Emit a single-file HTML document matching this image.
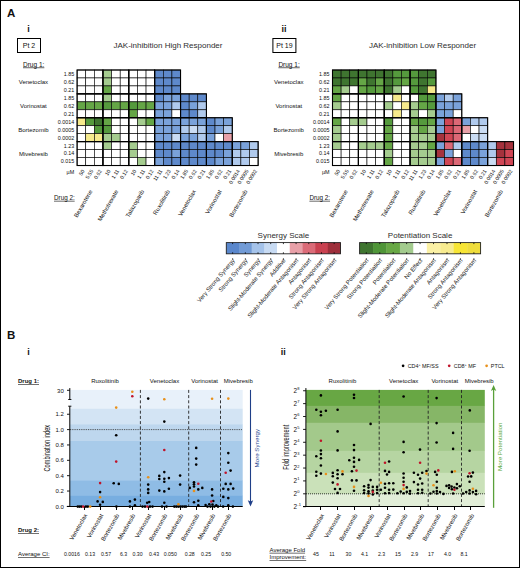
<!DOCTYPE html>
<html><head><meta charset="utf-8"><style>
html,body{margin:0;padding:0;background:#fff;}
body{width:520px;height:568px;overflow:hidden;}
svg{display:block;font-family:"Liberation Sans", sans-serif;}
</style></head><body>
<svg width="520" height="568" viewBox="0 0 520 568">
<rect x="0.5" y="0.5" width="519" height="567" fill="#fff" stroke="#000" stroke-width="1"/>
<text x="28.60" y="32.30" font-size="9" text-anchor="middle" font-weight="bold" fill="#111">i</text>
<rect x="17.50" y="38.50" width="23.00" height="14.00" fill="none" stroke="#000" stroke-width="1"/>
<text x="29.00" y="48.20" font-size="7" text-anchor="middle" fill="#111">Pt 2</text>
<text x="113.50" y="47.90" font-size="8" text-anchor="start" fill="#2e2e2e">JAK-inhibition High Responder</text>
<text x="23.00" y="66.50" font-size="6.5" text-anchor="start" fill="#111" text-decoration="underline">Drug 1:</text>
<text x="33.40" y="84.04" font-size="6" text-anchor="middle" fill="#111">Venetoclax</text>
<text x="33.40" y="107.92" font-size="6" text-anchor="middle" fill="#111">Vorinostat</text>
<text x="33.40" y="131.80" font-size="6" text-anchor="middle" fill="#111">Bortezomib</text>
<text x="33.40" y="155.68" font-size="6" text-anchor="middle" fill="#111">Mivebresib</text>
<text x="74.20" y="75.88" font-size="5.4" text-anchor="end" fill="#111">1.85</text>
<text x="74.20" y="83.84" font-size="5.4" text-anchor="end" fill="#111">0.62</text>
<text x="74.20" y="91.80" font-size="5.4" text-anchor="end" fill="#111">0.21</text>
<text x="74.20" y="99.76" font-size="5.4" text-anchor="end" fill="#111">1.85</text>
<text x="74.20" y="107.72" font-size="5.4" text-anchor="end" fill="#111">0.62</text>
<text x="74.20" y="115.68" font-size="5.4" text-anchor="end" fill="#111">0.21</text>
<text x="74.20" y="123.64" font-size="5.4" text-anchor="end" fill="#111">0.0014</text>
<text x="74.20" y="131.60" font-size="5.4" text-anchor="end" fill="#111">0.0005</text>
<text x="74.20" y="139.56" font-size="5.4" text-anchor="end" fill="#111">0.0002</text>
<text x="74.20" y="147.52" font-size="5.4" text-anchor="end" fill="#111">1.23</text>
<text x="74.20" y="155.48" font-size="5.4" text-anchor="end" fill="#111">0.14</text>
<text x="74.20" y="163.44" font-size="5.4" text-anchor="end" fill="#111">0.015</text>
<rect x="77.10" y="70.00" width="8.62" height="7.96" fill="#ffffff" stroke="#000" stroke-width="0.6"/>
<rect x="77.10" y="77.96" width="8.62" height="7.96" fill="#ffffff" stroke="#000" stroke-width="0.6"/>
<rect x="77.10" y="85.92" width="8.62" height="7.96" fill="#ffffff" stroke="#000" stroke-width="0.6"/>
<rect x="77.10" y="93.88" width="8.62" height="7.96" fill="#ffffff" stroke="#000" stroke-width="0.6"/>
<rect x="77.10" y="101.84" width="8.62" height="7.96" fill="#65a646" stroke="#000" stroke-width="0.6"/>
<rect x="77.10" y="109.80" width="8.62" height="7.96" fill="#ffffff" stroke="#000" stroke-width="0.6"/>
<rect x="77.10" y="117.76" width="8.62" height="7.96" fill="#f6ea8c" stroke="#000" stroke-width="0.6"/>
<rect x="77.10" y="125.72" width="8.62" height="7.96" fill="#ffffff" stroke="#000" stroke-width="0.6"/>
<rect x="77.10" y="133.68" width="8.62" height="7.96" fill="#ffffff" stroke="#000" stroke-width="0.6"/>
<rect x="77.10" y="141.64" width="8.62" height="7.96" fill="#ffffff" stroke="#000" stroke-width="0.6"/>
<rect x="77.10" y="149.60" width="8.62" height="7.96" fill="#ffffff" stroke="#000" stroke-width="0.6"/>
<rect x="77.10" y="157.56" width="8.62" height="7.96" fill="#ffffff" stroke="#000" stroke-width="0.6"/>
<rect x="85.72" y="70.00" width="8.62" height="7.96" fill="#ffffff" stroke="#000" stroke-width="0.6"/>
<rect x="85.72" y="77.96" width="8.62" height="7.96" fill="#ffffff" stroke="#000" stroke-width="0.6"/>
<rect x="85.72" y="85.92" width="8.62" height="7.96" fill="#ffffff" stroke="#000" stroke-width="0.6"/>
<rect x="85.72" y="93.88" width="8.62" height="7.96" fill="#ffffff" stroke="#000" stroke-width="0.6"/>
<rect x="85.72" y="101.84" width="8.62" height="7.96" fill="#65a646" stroke="#000" stroke-width="0.6"/>
<rect x="85.72" y="109.80" width="8.62" height="7.96" fill="#ffffff" stroke="#000" stroke-width="0.6"/>
<rect x="85.72" y="117.76" width="8.62" height="7.96" fill="#559a3d" stroke="#000" stroke-width="0.6"/>
<rect x="85.72" y="125.72" width="8.62" height="7.96" fill="#ffffff" stroke="#000" stroke-width="0.6"/>
<rect x="85.72" y="133.68" width="8.62" height="7.96" fill="#f6ea8c" stroke="#000" stroke-width="0.6"/>
<rect x="85.72" y="141.64" width="8.62" height="7.96" fill="#ffffff" stroke="#000" stroke-width="0.6"/>
<rect x="85.72" y="149.60" width="8.62" height="7.96" fill="#ffffff" stroke="#000" stroke-width="0.6"/>
<rect x="85.72" y="157.56" width="8.62" height="7.96" fill="#ffffff" stroke="#000" stroke-width="0.6"/>
<rect x="94.34" y="70.00" width="8.62" height="7.96" fill="#ffffff" stroke="#000" stroke-width="0.6"/>
<rect x="94.34" y="77.96" width="8.62" height="7.96" fill="#ffffff" stroke="#000" stroke-width="0.6"/>
<rect x="94.34" y="85.92" width="8.62" height="7.96" fill="#ffffff" stroke="#000" stroke-width="0.6"/>
<rect x="94.34" y="93.88" width="8.62" height="7.96" fill="#ffffff" stroke="#000" stroke-width="0.6"/>
<rect x="94.34" y="101.84" width="8.62" height="7.96" fill="#65a646" stroke="#000" stroke-width="0.6"/>
<rect x="94.34" y="109.80" width="8.62" height="7.96" fill="#ffffff" stroke="#000" stroke-width="0.6"/>
<rect x="94.34" y="117.76" width="8.62" height="7.96" fill="#3f7530" stroke="#000" stroke-width="0.6"/>
<rect x="94.34" y="125.72" width="8.62" height="7.96" fill="#559a3d" stroke="#000" stroke-width="0.6"/>
<rect x="94.34" y="133.68" width="8.62" height="7.96" fill="#f6ea8c" stroke="#000" stroke-width="0.6"/>
<rect x="94.34" y="141.64" width="8.62" height="7.96" fill="#ffffff" stroke="#000" stroke-width="0.6"/>
<rect x="94.34" y="149.60" width="8.62" height="7.96" fill="#ffffff" stroke="#000" stroke-width="0.6"/>
<rect x="94.34" y="157.56" width="8.62" height="7.96" fill="#ffffff" stroke="#000" stroke-width="0.6"/>
<rect x="102.96" y="70.00" width="8.62" height="7.96" fill="#a5cc8f" stroke="#000" stroke-width="0.6"/>
<rect x="102.96" y="77.96" width="8.62" height="7.96" fill="#a5cc8f" stroke="#000" stroke-width="0.6"/>
<rect x="102.96" y="85.92" width="8.62" height="7.96" fill="#65a646" stroke="#000" stroke-width="0.6"/>
<rect x="102.96" y="93.88" width="8.62" height="7.96" fill="#a5cc8f" stroke="#000" stroke-width="0.6"/>
<rect x="102.96" y="101.84" width="8.62" height="7.96" fill="#559a3d" stroke="#000" stroke-width="0.6"/>
<rect x="102.96" y="109.80" width="8.62" height="7.96" fill="#ffffff" stroke="#000" stroke-width="0.6"/>
<rect x="102.96" y="117.76" width="8.62" height="7.96" fill="#65a646" stroke="#000" stroke-width="0.6"/>
<rect x="102.96" y="125.72" width="8.62" height="7.96" fill="#559a3d" stroke="#000" stroke-width="0.6"/>
<rect x="102.96" y="133.68" width="8.62" height="7.96" fill="#a5cc8f" stroke="#000" stroke-width="0.6"/>
<rect x="102.96" y="141.64" width="8.62" height="7.96" fill="#a5cc8f" stroke="#000" stroke-width="0.6"/>
<rect x="102.96" y="149.60" width="8.62" height="7.96" fill="#ffffff" stroke="#000" stroke-width="0.6"/>
<rect x="102.96" y="157.56" width="8.62" height="7.96" fill="#ffffff" stroke="#000" stroke-width="0.6"/>
<rect x="111.58" y="70.00" width="8.62" height="7.96" fill="#ffffff" stroke="#000" stroke-width="0.6"/>
<rect x="111.58" y="77.96" width="8.62" height="7.96" fill="#ffffff" stroke="#000" stroke-width="0.6"/>
<rect x="111.58" y="85.92" width="8.62" height="7.96" fill="#ffffff" stroke="#000" stroke-width="0.6"/>
<rect x="111.58" y="93.88" width="8.62" height="7.96" fill="#ffffff" stroke="#000" stroke-width="0.6"/>
<rect x="111.58" y="101.84" width="8.62" height="7.96" fill="#65a646" stroke="#000" stroke-width="0.6"/>
<rect x="111.58" y="109.80" width="8.62" height="7.96" fill="#ffffff" stroke="#000" stroke-width="0.6"/>
<rect x="111.58" y="117.76" width="8.62" height="7.96" fill="#ffffff" stroke="#000" stroke-width="0.6"/>
<rect x="111.58" y="125.72" width="8.62" height="7.96" fill="#ffffff" stroke="#000" stroke-width="0.6"/>
<rect x="111.58" y="133.68" width="8.62" height="7.96" fill="#a5cc8f" stroke="#000" stroke-width="0.6"/>
<rect x="111.58" y="141.64" width="8.62" height="7.96" fill="#ffffff" stroke="#000" stroke-width="0.6"/>
<rect x="111.58" y="149.60" width="8.62" height="7.96" fill="#ffffff" stroke="#000" stroke-width="0.6"/>
<rect x="111.58" y="157.56" width="8.62" height="7.96" fill="#ffffff" stroke="#000" stroke-width="0.6"/>
<rect x="120.20" y="70.00" width="8.62" height="7.96" fill="#ffffff" stroke="#000" stroke-width="0.6"/>
<rect x="120.20" y="77.96" width="8.62" height="7.96" fill="#ffffff" stroke="#000" stroke-width="0.6"/>
<rect x="120.20" y="85.92" width="8.62" height="7.96" fill="#ffffff" stroke="#000" stroke-width="0.6"/>
<rect x="120.20" y="93.88" width="8.62" height="7.96" fill="#ffffff" stroke="#000" stroke-width="0.6"/>
<rect x="120.20" y="101.84" width="8.62" height="7.96" fill="#65a646" stroke="#000" stroke-width="0.6"/>
<rect x="120.20" y="109.80" width="8.62" height="7.96" fill="#ffffff" stroke="#000" stroke-width="0.6"/>
<rect x="120.20" y="117.76" width="8.62" height="7.96" fill="#ffffff" stroke="#000" stroke-width="0.6"/>
<rect x="120.20" y="125.72" width="8.62" height="7.96" fill="#ffffff" stroke="#000" stroke-width="0.6"/>
<rect x="120.20" y="133.68" width="8.62" height="7.96" fill="#ffffff" stroke="#000" stroke-width="0.6"/>
<rect x="120.20" y="141.64" width="8.62" height="7.96" fill="#ffffff" stroke="#000" stroke-width="0.6"/>
<rect x="120.20" y="149.60" width="8.62" height="7.96" fill="#ffffff" stroke="#000" stroke-width="0.6"/>
<rect x="120.20" y="157.56" width="8.62" height="7.96" fill="#ffffff" stroke="#000" stroke-width="0.6"/>
<rect x="128.82" y="70.00" width="8.62" height="7.96" fill="#ffffff" stroke="#000" stroke-width="0.6"/>
<rect x="128.82" y="77.96" width="8.62" height="7.96" fill="#ffffff" stroke="#000" stroke-width="0.6"/>
<rect x="128.82" y="85.92" width="8.62" height="7.96" fill="#ffffff" stroke="#000" stroke-width="0.6"/>
<rect x="128.82" y="93.88" width="8.62" height="7.96" fill="#ffffff" stroke="#000" stroke-width="0.6"/>
<rect x="128.82" y="101.84" width="8.62" height="7.96" fill="#559a3d" stroke="#000" stroke-width="0.6"/>
<rect x="128.82" y="109.80" width="8.62" height="7.96" fill="#65a646" stroke="#000" stroke-width="0.6"/>
<rect x="128.82" y="117.76" width="8.62" height="7.96" fill="#ffffff" stroke="#000" stroke-width="0.6"/>
<rect x="128.82" y="125.72" width="8.62" height="7.96" fill="#ffffff" stroke="#000" stroke-width="0.6"/>
<rect x="128.82" y="133.68" width="8.62" height="7.96" fill="#ffffff" stroke="#000" stroke-width="0.6"/>
<rect x="128.82" y="141.64" width="8.62" height="7.96" fill="#a5cc8f" stroke="#000" stroke-width="0.6"/>
<rect x="128.82" y="149.60" width="8.62" height="7.96" fill="#a5cc8f" stroke="#000" stroke-width="0.6"/>
<rect x="128.82" y="157.56" width="8.62" height="7.96" fill="#ffffff" stroke="#000" stroke-width="0.6"/>
<rect x="137.44" y="70.00" width="8.62" height="7.96" fill="#ffffff" stroke="#000" stroke-width="0.6"/>
<rect x="137.44" y="77.96" width="8.62" height="7.96" fill="#ffffff" stroke="#000" stroke-width="0.6"/>
<rect x="137.44" y="85.92" width="8.62" height="7.96" fill="#ffffff" stroke="#000" stroke-width="0.6"/>
<rect x="137.44" y="93.88" width="8.62" height="7.96" fill="#ffffff" stroke="#000" stroke-width="0.6"/>
<rect x="137.44" y="101.84" width="8.62" height="7.96" fill="#65a646" stroke="#000" stroke-width="0.6"/>
<rect x="137.44" y="109.80" width="8.62" height="7.96" fill="#ffffff" stroke="#000" stroke-width="0.6"/>
<rect x="137.44" y="117.76" width="8.62" height="7.96" fill="#a5cc8f" stroke="#000" stroke-width="0.6"/>
<rect x="137.44" y="125.72" width="8.62" height="7.96" fill="#ffffff" stroke="#000" stroke-width="0.6"/>
<rect x="137.44" y="133.68" width="8.62" height="7.96" fill="#ffffff" stroke="#000" stroke-width="0.6"/>
<rect x="137.44" y="141.64" width="8.62" height="7.96" fill="#ffffff" stroke="#000" stroke-width="0.6"/>
<rect x="137.44" y="149.60" width="8.62" height="7.96" fill="#ffffff" stroke="#000" stroke-width="0.6"/>
<rect x="137.44" y="157.56" width="8.62" height="7.96" fill="#a5cc8f" stroke="#000" stroke-width="0.6"/>
<rect x="146.06" y="70.00" width="8.62" height="7.96" fill="#ffffff" stroke="#000" stroke-width="0.6"/>
<rect x="146.06" y="77.96" width="8.62" height="7.96" fill="#ffffff" stroke="#000" stroke-width="0.6"/>
<rect x="146.06" y="85.92" width="8.62" height="7.96" fill="#ffffff" stroke="#000" stroke-width="0.6"/>
<rect x="146.06" y="93.88" width="8.62" height="7.96" fill="#ffffff" stroke="#000" stroke-width="0.6"/>
<rect x="146.06" y="101.84" width="8.62" height="7.96" fill="#65a646" stroke="#000" stroke-width="0.6"/>
<rect x="146.06" y="109.80" width="8.62" height="7.96" fill="#ffffff" stroke="#000" stroke-width="0.6"/>
<rect x="146.06" y="117.76" width="8.62" height="7.96" fill="#65a646" stroke="#000" stroke-width="0.6"/>
<rect x="146.06" y="125.72" width="8.62" height="7.96" fill="#ffffff" stroke="#000" stroke-width="0.6"/>
<rect x="146.06" y="133.68" width="8.62" height="7.96" fill="#ffffff" stroke="#000" stroke-width="0.6"/>
<rect x="146.06" y="141.64" width="8.62" height="7.96" fill="#ffffff" stroke="#000" stroke-width="0.6"/>
<rect x="146.06" y="149.60" width="8.62" height="7.96" fill="#ffffff" stroke="#000" stroke-width="0.6"/>
<rect x="146.06" y="157.56" width="8.62" height="7.96" fill="#ffffff" stroke="#000" stroke-width="0.6"/>
<rect x="154.68" y="70.00" width="8.62" height="7.96" fill="#5e89cb" stroke="#000" stroke-width="0.6"/>
<rect x="154.68" y="77.96" width="8.62" height="7.96" fill="#5e89cb" stroke="#000" stroke-width="0.6"/>
<rect x="154.68" y="85.92" width="8.62" height="7.96" fill="#5e89cb" stroke="#000" stroke-width="0.6"/>
<rect x="154.68" y="93.88" width="8.62" height="7.96" fill="#5e89cb" stroke="#000" stroke-width="0.6"/>
<rect x="154.68" y="101.84" width="8.62" height="7.96" fill="#7aa2da" stroke="#000" stroke-width="0.6"/>
<rect x="154.68" y="109.80" width="8.62" height="7.96" fill="#7aa2da" stroke="#000" stroke-width="0.6"/>
<rect x="154.68" y="117.76" width="8.62" height="7.96" fill="#7aa2da" stroke="#000" stroke-width="0.6"/>
<rect x="154.68" y="125.72" width="8.62" height="7.96" fill="#7aa2da" stroke="#000" stroke-width="0.6"/>
<rect x="154.68" y="133.68" width="8.62" height="7.96" fill="#7aa2da" stroke="#000" stroke-width="0.6"/>
<rect x="154.68" y="141.64" width="8.62" height="7.96" fill="#5e89cb" stroke="#000" stroke-width="0.6"/>
<rect x="154.68" y="149.60" width="8.62" height="7.96" fill="#5e89cb" stroke="#000" stroke-width="0.6"/>
<rect x="154.68" y="157.56" width="8.62" height="7.96" fill="#7aa2da" stroke="#000" stroke-width="0.6"/>
<rect x="163.30" y="70.00" width="8.62" height="7.96" fill="#5e89cb" stroke="#000" stroke-width="0.6"/>
<rect x="163.30" y="77.96" width="8.62" height="7.96" fill="#5e89cb" stroke="#000" stroke-width="0.6"/>
<rect x="163.30" y="85.92" width="8.62" height="7.96" fill="#5e89cb" stroke="#000" stroke-width="0.6"/>
<rect x="163.30" y="93.88" width="8.62" height="7.96" fill="#7aa2da" stroke="#000" stroke-width="0.6"/>
<rect x="163.30" y="101.84" width="8.62" height="7.96" fill="#7aa2da" stroke="#000" stroke-width="0.6"/>
<rect x="163.30" y="109.80" width="8.62" height="7.96" fill="#7aa2da" stroke="#000" stroke-width="0.6"/>
<rect x="163.30" y="117.76" width="8.62" height="7.96" fill="#7aa2da" stroke="#000" stroke-width="0.6"/>
<rect x="163.30" y="125.72" width="8.62" height="7.96" fill="#7aa2da" stroke="#000" stroke-width="0.6"/>
<rect x="163.30" y="133.68" width="8.62" height="7.96" fill="#7aa2da" stroke="#000" stroke-width="0.6"/>
<rect x="163.30" y="141.64" width="8.62" height="7.96" fill="#5e89cb" stroke="#000" stroke-width="0.6"/>
<rect x="163.30" y="149.60" width="8.62" height="7.96" fill="#5e89cb" stroke="#000" stroke-width="0.6"/>
<rect x="163.30" y="157.56" width="8.62" height="7.96" fill="#5e89cb" stroke="#000" stroke-width="0.6"/>
<rect x="171.92" y="70.00" width="8.62" height="7.96" fill="#5e89cb" stroke="#000" stroke-width="0.6"/>
<rect x="171.92" y="77.96" width="8.62" height="7.96" fill="#5e89cb" stroke="#000" stroke-width="0.6"/>
<rect x="171.92" y="85.92" width="8.62" height="7.96" fill="#5e89cb" stroke="#000" stroke-width="0.6"/>
<rect x="171.92" y="93.88" width="8.62" height="7.96" fill="#7aa2da" stroke="#000" stroke-width="0.6"/>
<rect x="171.92" y="101.84" width="8.62" height="7.96" fill="#b0caed" stroke="#000" stroke-width="0.6"/>
<rect x="171.92" y="109.80" width="8.62" height="7.96" fill="#ffffff" stroke="#000" stroke-width="0.6"/>
<rect x="171.92" y="117.76" width="8.62" height="7.96" fill="#7aa2da" stroke="#000" stroke-width="0.6"/>
<rect x="171.92" y="125.72" width="8.62" height="7.96" fill="#7aa2da" stroke="#000" stroke-width="0.6"/>
<rect x="171.92" y="133.68" width="8.62" height="7.96" fill="#cadcf3" stroke="#000" stroke-width="0.6"/>
<rect x="171.92" y="141.64" width="8.62" height="7.96" fill="#5e89cb" stroke="#000" stroke-width="0.6"/>
<rect x="171.92" y="149.60" width="8.62" height="7.96" fill="#7aa2da" stroke="#000" stroke-width="0.6"/>
<rect x="171.92" y="157.56" width="8.62" height="7.96" fill="#5e89cb" stroke="#000" stroke-width="0.6"/>
<rect x="180.54" y="93.88" width="8.62" height="7.96" fill="#5e89cb" stroke="#000" stroke-width="0.6"/>
<rect x="180.54" y="101.84" width="8.62" height="7.96" fill="#5e89cb" stroke="#000" stroke-width="0.6"/>
<rect x="180.54" y="109.80" width="8.62" height="7.96" fill="#5e89cb" stroke="#000" stroke-width="0.6"/>
<rect x="180.54" y="117.76" width="8.62" height="7.96" fill="#7aa2da" stroke="#000" stroke-width="0.6"/>
<rect x="180.54" y="125.72" width="8.62" height="7.96" fill="#b0caed" stroke="#000" stroke-width="0.6"/>
<rect x="180.54" y="133.68" width="8.62" height="7.96" fill="#7aa2da" stroke="#000" stroke-width="0.6"/>
<rect x="180.54" y="141.64" width="8.62" height="7.96" fill="#5e89cb" stroke="#000" stroke-width="0.6"/>
<rect x="180.54" y="149.60" width="8.62" height="7.96" fill="#5e89cb" stroke="#000" stroke-width="0.6"/>
<rect x="180.54" y="157.56" width="8.62" height="7.96" fill="#5e89cb" stroke="#000" stroke-width="0.6"/>
<rect x="189.16" y="93.88" width="8.62" height="7.96" fill="#5e89cb" stroke="#000" stroke-width="0.6"/>
<rect x="189.16" y="101.84" width="8.62" height="7.96" fill="#7aa2da" stroke="#000" stroke-width="0.6"/>
<rect x="189.16" y="109.80" width="8.62" height="7.96" fill="#5e89cb" stroke="#000" stroke-width="0.6"/>
<rect x="189.16" y="117.76" width="8.62" height="7.96" fill="#7aa2da" stroke="#000" stroke-width="0.6"/>
<rect x="189.16" y="125.72" width="8.62" height="7.96" fill="#cadcf3" stroke="#000" stroke-width="0.6"/>
<rect x="189.16" y="133.68" width="8.62" height="7.96" fill="#7aa2da" stroke="#000" stroke-width="0.6"/>
<rect x="189.16" y="141.64" width="8.62" height="7.96" fill="#5e89cb" stroke="#000" stroke-width="0.6"/>
<rect x="189.16" y="149.60" width="8.62" height="7.96" fill="#5e89cb" stroke="#000" stroke-width="0.6"/>
<rect x="189.16" y="157.56" width="8.62" height="7.96" fill="#5e89cb" stroke="#000" stroke-width="0.6"/>
<rect x="197.78" y="93.88" width="8.62" height="7.96" fill="#5e89cb" stroke="#000" stroke-width="0.6"/>
<rect x="197.78" y="101.84" width="8.62" height="7.96" fill="#b0caed" stroke="#000" stroke-width="0.6"/>
<rect x="197.78" y="109.80" width="8.62" height="7.96" fill="#b0caed" stroke="#000" stroke-width="0.6"/>
<rect x="197.78" y="117.76" width="8.62" height="7.96" fill="#7aa2da" stroke="#000" stroke-width="0.6"/>
<rect x="197.78" y="125.72" width="8.62" height="7.96" fill="#b0caed" stroke="#000" stroke-width="0.6"/>
<rect x="197.78" y="133.68" width="8.62" height="7.96" fill="#b0caed" stroke="#000" stroke-width="0.6"/>
<rect x="197.78" y="141.64" width="8.62" height="7.96" fill="#5e89cb" stroke="#000" stroke-width="0.6"/>
<rect x="197.78" y="149.60" width="8.62" height="7.96" fill="#5e89cb" stroke="#000" stroke-width="0.6"/>
<rect x="197.78" y="157.56" width="8.62" height="7.96" fill="#5e89cb" stroke="#000" stroke-width="0.6"/>
<rect x="206.40" y="117.76" width="8.62" height="7.96" fill="#5e89cb" stroke="#000" stroke-width="0.6"/>
<rect x="206.40" y="125.72" width="8.62" height="7.96" fill="#5e89cb" stroke="#000" stroke-width="0.6"/>
<rect x="206.40" y="133.68" width="8.62" height="7.96" fill="#7aa2da" stroke="#000" stroke-width="0.6"/>
<rect x="206.40" y="141.64" width="8.62" height="7.96" fill="#5e89cb" stroke="#000" stroke-width="0.6"/>
<rect x="206.40" y="149.60" width="8.62" height="7.96" fill="#5e89cb" stroke="#000" stroke-width="0.6"/>
<rect x="206.40" y="157.56" width="8.62" height="7.96" fill="#5e89cb" stroke="#000" stroke-width="0.6"/>
<rect x="215.02" y="117.76" width="8.62" height="7.96" fill="#7aa2da" stroke="#000" stroke-width="0.6"/>
<rect x="215.02" y="125.72" width="8.62" height="7.96" fill="#7aa2da" stroke="#000" stroke-width="0.6"/>
<rect x="215.02" y="133.68" width="8.62" height="7.96" fill="#ffffff" stroke="#000" stroke-width="0.6"/>
<rect x="215.02" y="141.64" width="8.62" height="7.96" fill="#5e89cb" stroke="#000" stroke-width="0.6"/>
<rect x="215.02" y="149.60" width="8.62" height="7.96" fill="#5e89cb" stroke="#000" stroke-width="0.6"/>
<rect x="215.02" y="157.56" width="8.62" height="7.96" fill="#7aa2da" stroke="#000" stroke-width="0.6"/>
<rect x="223.64" y="117.76" width="8.62" height="7.96" fill="#7aa2da" stroke="#000" stroke-width="0.6"/>
<rect x="223.64" y="125.72" width="8.62" height="7.96" fill="#b0caed" stroke="#000" stroke-width="0.6"/>
<rect x="223.64" y="133.68" width="8.62" height="7.96" fill="#e8a0a8" stroke="#000" stroke-width="0.6"/>
<rect x="223.64" y="141.64" width="8.62" height="7.96" fill="#5e89cb" stroke="#000" stroke-width="0.6"/>
<rect x="223.64" y="149.60" width="8.62" height="7.96" fill="#7aa2da" stroke="#000" stroke-width="0.6"/>
<rect x="223.64" y="157.56" width="8.62" height="7.96" fill="#7aa2da" stroke="#000" stroke-width="0.6"/>
<rect x="232.26" y="141.64" width="8.62" height="7.96" fill="#7aa2da" stroke="#000" stroke-width="0.6"/>
<rect x="232.26" y="149.60" width="8.62" height="7.96" fill="#b0caed" stroke="#000" stroke-width="0.6"/>
<rect x="232.26" y="157.56" width="8.62" height="7.96" fill="#b0caed" stroke="#000" stroke-width="0.6"/>
<rect x="240.88" y="141.64" width="8.62" height="7.96" fill="#7aa2da" stroke="#000" stroke-width="0.6"/>
<rect x="240.88" y="149.60" width="8.62" height="7.96" fill="#b0caed" stroke="#000" stroke-width="0.6"/>
<rect x="240.88" y="157.56" width="8.62" height="7.96" fill="#b0caed" stroke="#000" stroke-width="0.6"/>
<rect x="249.50" y="141.64" width="8.62" height="7.96" fill="#b0caed" stroke="#000" stroke-width="0.6"/>
<rect x="249.50" y="149.60" width="8.62" height="7.96" fill="#b0caed" stroke="#000" stroke-width="0.6"/>
<rect x="249.50" y="157.56" width="8.62" height="7.96" fill="#ffffff" stroke="#000" stroke-width="0.6"/>
<rect x="77.10" y="70.00" width="25.86" height="23.88" fill="none" stroke="#000" stroke-width="1.1"/>
<rect x="77.10" y="93.88" width="25.86" height="23.88" fill="none" stroke="#000" stroke-width="1.1"/>
<rect x="77.10" y="117.76" width="25.86" height="23.88" fill="none" stroke="#000" stroke-width="1.1"/>
<rect x="77.10" y="141.64" width="25.86" height="23.88" fill="none" stroke="#000" stroke-width="1.1"/>
<rect x="102.96" y="70.00" width="25.86" height="23.88" fill="none" stroke="#000" stroke-width="1.1"/>
<rect x="102.96" y="93.88" width="25.86" height="23.88" fill="none" stroke="#000" stroke-width="1.1"/>
<rect x="102.96" y="117.76" width="25.86" height="23.88" fill="none" stroke="#000" stroke-width="1.1"/>
<rect x="102.96" y="141.64" width="25.86" height="23.88" fill="none" stroke="#000" stroke-width="1.1"/>
<rect x="128.82" y="70.00" width="25.86" height="23.88" fill="none" stroke="#000" stroke-width="1.1"/>
<rect x="128.82" y="93.88" width="25.86" height="23.88" fill="none" stroke="#000" stroke-width="1.1"/>
<rect x="128.82" y="117.76" width="25.86" height="23.88" fill="none" stroke="#000" stroke-width="1.1"/>
<rect x="128.82" y="141.64" width="25.86" height="23.88" fill="none" stroke="#000" stroke-width="1.1"/>
<rect x="154.68" y="70.00" width="25.86" height="23.88" fill="none" stroke="#000" stroke-width="1.1"/>
<rect x="154.68" y="93.88" width="25.86" height="23.88" fill="none" stroke="#000" stroke-width="1.1"/>
<rect x="154.68" y="117.76" width="25.86" height="23.88" fill="none" stroke="#000" stroke-width="1.1"/>
<rect x="154.68" y="141.64" width="25.86" height="23.88" fill="none" stroke="#000" stroke-width="1.1"/>
<rect x="180.54" y="93.88" width="25.86" height="23.88" fill="none" stroke="#000" stroke-width="1.1"/>
<rect x="180.54" y="117.76" width="25.86" height="23.88" fill="none" stroke="#000" stroke-width="1.1"/>
<rect x="180.54" y="141.64" width="25.86" height="23.88" fill="none" stroke="#000" stroke-width="1.1"/>
<rect x="206.40" y="117.76" width="25.86" height="23.88" fill="none" stroke="#000" stroke-width="1.1"/>
<rect x="206.40" y="141.64" width="25.86" height="23.88" fill="none" stroke="#000" stroke-width="1.1"/>
<rect x="232.26" y="141.64" width="25.86" height="23.88" fill="none" stroke="#000" stroke-width="1.1"/>
<text x="74.20" y="174.20" font-size="5.4" text-anchor="end" fill="#111">µM</text>
<text x="84.91" y="171.00" font-size="5.2" text-anchor="end" fill="#111" transform="rotate(-58 84.91 171.0)">50</text>
<text x="93.53" y="171.00" font-size="5.2" text-anchor="end" fill="#111" transform="rotate(-58 93.53 171.0)">5.55</text>
<text x="102.15" y="171.00" font-size="5.2" text-anchor="end" fill="#111" transform="rotate(-58 102.14999999999999 171.0)">0.62</text>
<text x="110.77" y="171.00" font-size="5.2" text-anchor="end" fill="#111" transform="rotate(-58 110.77 171.0)">10</text>
<text x="119.39" y="171.00" font-size="5.2" text-anchor="end" fill="#111" transform="rotate(-58 119.38999999999999 171.0)">1.11</text>
<text x="128.01" y="171.00" font-size="5.2" text-anchor="end" fill="#111" transform="rotate(-58 128.01 171.0)">0.12</text>
<text x="136.63" y="171.00" font-size="5.2" text-anchor="end" fill="#111" transform="rotate(-58 136.63 171.0)">10</text>
<text x="145.25" y="171.00" font-size="5.2" text-anchor="end" fill="#111" transform="rotate(-58 145.25 171.0)">1.11</text>
<text x="153.87" y="171.00" font-size="5.2" text-anchor="end" fill="#111" transform="rotate(-58 153.87 171.0)">0.12</text>
<text x="162.49" y="171.00" font-size="5.2" text-anchor="end" fill="#111" transform="rotate(-58 162.48999999999998 171.0)">11.11</text>
<text x="171.11" y="171.00" font-size="5.2" text-anchor="end" fill="#111" transform="rotate(-58 171.10999999999999 171.0)">1.23</text>
<text x="179.73" y="171.00" font-size="5.2" text-anchor="end" fill="#111" transform="rotate(-58 179.73 171.0)">0.14</text>
<text x="188.35" y="171.00" font-size="5.2" text-anchor="end" fill="#111" transform="rotate(-58 188.34999999999997 171.0)">1.85</text>
<text x="196.97" y="171.00" font-size="5.2" text-anchor="end" fill="#111" transform="rotate(-58 196.96999999999997 171.0)">0.62</text>
<text x="205.59" y="171.00" font-size="5.2" text-anchor="end" fill="#111" transform="rotate(-58 205.58999999999997 171.0)">0.21</text>
<text x="214.21" y="171.00" font-size="5.2" text-anchor="end" fill="#111" transform="rotate(-58 214.20999999999998 171.0)">1.85</text>
<text x="222.83" y="171.00" font-size="5.2" text-anchor="end" fill="#111" transform="rotate(-58 222.82999999999998 171.0)">0.62</text>
<text x="231.45" y="171.00" font-size="5.2" text-anchor="end" fill="#111" transform="rotate(-58 231.45 171.0)">0.21</text>
<text x="240.07" y="171.00" font-size="5.2" text-anchor="end" fill="#111" transform="rotate(-58 240.07 171.0)">0.0014</text>
<text x="248.69" y="171.00" font-size="5.2" text-anchor="end" fill="#111" transform="rotate(-58 248.68999999999997 171.0)">0.0005</text>
<text x="257.31" y="171.00" font-size="5.2" text-anchor="end" fill="#111" transform="rotate(-58 257.30999999999995 171.0)">0.0002</text>
<text x="54.00" y="199.80" font-size="6.3" text-anchor="start" fill="#111" text-decoration="underline">Drug 2:</text>
<text x="92.63" y="191.40" font-size="6.0" text-anchor="end" fill="#111" transform="rotate(-60 92.63 191.4)">Bexarotene</text>
<text x="118.49" y="191.40" font-size="6.0" text-anchor="end" fill="#111" transform="rotate(-60 118.48999999999998 191.4)">Methotrexate</text>
<text x="144.35" y="191.40" font-size="6.0" text-anchor="end" fill="#111" transform="rotate(-60 144.35 191.4)">Talazoparib</text>
<text x="170.21" y="191.40" font-size="6.0" text-anchor="end" fill="#111" transform="rotate(-60 170.20999999999998 191.4)">Ruxolitinib</text>
<text x="196.07" y="191.40" font-size="6.0" text-anchor="end" fill="#111" transform="rotate(-60 196.06999999999996 191.4)">Venetoclax</text>
<text x="221.93" y="191.40" font-size="6.0" text-anchor="end" fill="#111" transform="rotate(-60 221.92999999999998 191.4)">Vorinostat</text>
<text x="247.79" y="191.40" font-size="6.0" text-anchor="end" fill="#111" transform="rotate(-60 247.78999999999996 191.4)">Bortezomib</text>
<text x="284.00" y="32.30" font-size="9" text-anchor="middle" font-weight="bold" fill="#111">ii</text>
<rect x="272.90" y="38.50" width="23.00" height="14.00" fill="none" stroke="#000" stroke-width="1"/>
<text x="284.40" y="48.20" font-size="7" text-anchor="middle" fill="#111">Pt 19</text>
<text x="368.90" y="47.90" font-size="8" text-anchor="start" fill="#2e2e2e">JAK-inhibition Low Responder</text>
<text x="278.40" y="66.50" font-size="6.5" text-anchor="start" fill="#111" text-decoration="underline">Drug 1:</text>
<text x="288.80" y="84.04" font-size="6" text-anchor="middle" fill="#111">Venetoclax</text>
<text x="288.80" y="107.92" font-size="6" text-anchor="middle" fill="#111">Vorinostat</text>
<text x="288.80" y="131.80" font-size="6" text-anchor="middle" fill="#111">Bortezomib</text>
<text x="288.80" y="155.68" font-size="6" text-anchor="middle" fill="#111">Mivebresib</text>
<text x="329.60" y="75.88" font-size="5.4" text-anchor="end" fill="#111">1.85</text>
<text x="329.60" y="83.84" font-size="5.4" text-anchor="end" fill="#111">0.62</text>
<text x="329.60" y="91.80" font-size="5.4" text-anchor="end" fill="#111">0.21</text>
<text x="329.60" y="99.76" font-size="5.4" text-anchor="end" fill="#111">1.85</text>
<text x="329.60" y="107.72" font-size="5.4" text-anchor="end" fill="#111">0.62</text>
<text x="329.60" y="115.68" font-size="5.4" text-anchor="end" fill="#111">0.21</text>
<text x="329.60" y="123.64" font-size="5.4" text-anchor="end" fill="#111">0.0014</text>
<text x="329.60" y="131.60" font-size="5.4" text-anchor="end" fill="#111">0.0005</text>
<text x="329.60" y="139.56" font-size="5.4" text-anchor="end" fill="#111">0.0002</text>
<text x="329.60" y="147.52" font-size="5.4" text-anchor="end" fill="#111">1.23</text>
<text x="329.60" y="155.48" font-size="5.4" text-anchor="end" fill="#111">0.14</text>
<text x="329.60" y="163.44" font-size="5.4" text-anchor="end" fill="#111">0.015</text>
<rect x="332.50" y="70.00" width="8.62" height="7.96" fill="#3f7530" stroke="#000" stroke-width="0.6"/>
<rect x="332.50" y="77.96" width="8.62" height="7.96" fill="#3f7530" stroke="#000" stroke-width="0.6"/>
<rect x="332.50" y="85.92" width="8.62" height="7.96" fill="#65a646" stroke="#000" stroke-width="0.6"/>
<rect x="332.50" y="93.88" width="8.62" height="7.96" fill="#65a646" stroke="#000" stroke-width="0.6"/>
<rect x="332.50" y="101.84" width="8.62" height="7.96" fill="#a5cc8f" stroke="#000" stroke-width="0.6"/>
<rect x="332.50" y="109.80" width="8.62" height="7.96" fill="#ffffff" stroke="#000" stroke-width="0.6"/>
<rect x="332.50" y="117.76" width="8.62" height="7.96" fill="#65a646" stroke="#000" stroke-width="0.6"/>
<rect x="332.50" y="125.72" width="8.62" height="7.96" fill="#a5cc8f" stroke="#000" stroke-width="0.6"/>
<rect x="332.50" y="133.68" width="8.62" height="7.96" fill="#a5cc8f" stroke="#000" stroke-width="0.6"/>
<rect x="332.50" y="141.64" width="8.62" height="7.96" fill="#a5cc8f" stroke="#000" stroke-width="0.6"/>
<rect x="332.50" y="149.60" width="8.62" height="7.96" fill="#ffffff" stroke="#000" stroke-width="0.6"/>
<rect x="332.50" y="157.56" width="8.62" height="7.96" fill="#ffffff" stroke="#000" stroke-width="0.6"/>
<rect x="341.12" y="70.00" width="8.62" height="7.96" fill="#3f7530" stroke="#000" stroke-width="0.6"/>
<rect x="341.12" y="77.96" width="8.62" height="7.96" fill="#3f7530" stroke="#000" stroke-width="0.6"/>
<rect x="341.12" y="85.92" width="8.62" height="7.96" fill="#a5cc8f" stroke="#000" stroke-width="0.6"/>
<rect x="341.12" y="93.88" width="8.62" height="7.96" fill="#ffffff" stroke="#000" stroke-width="0.6"/>
<rect x="341.12" y="101.84" width="8.62" height="7.96" fill="#ffffff" stroke="#000" stroke-width="0.6"/>
<rect x="341.12" y="109.80" width="8.62" height="7.96" fill="#ffffff" stroke="#000" stroke-width="0.6"/>
<rect x="341.12" y="117.76" width="8.62" height="7.96" fill="#ffffff" stroke="#000" stroke-width="0.6"/>
<rect x="341.12" y="125.72" width="8.62" height="7.96" fill="#ffffff" stroke="#000" stroke-width="0.6"/>
<rect x="341.12" y="133.68" width="8.62" height="7.96" fill="#ffffff" stroke="#000" stroke-width="0.6"/>
<rect x="341.12" y="141.64" width="8.62" height="7.96" fill="#ffffff" stroke="#000" stroke-width="0.6"/>
<rect x="341.12" y="149.60" width="8.62" height="7.96" fill="#ffffff" stroke="#000" stroke-width="0.6"/>
<rect x="341.12" y="157.56" width="8.62" height="7.96" fill="#ffffff" stroke="#000" stroke-width="0.6"/>
<rect x="349.74" y="70.00" width="8.62" height="7.96" fill="#3f7530" stroke="#000" stroke-width="0.6"/>
<rect x="349.74" y="77.96" width="8.62" height="7.96" fill="#3f7530" stroke="#000" stroke-width="0.6"/>
<rect x="349.74" y="85.92" width="8.62" height="7.96" fill="#ffffff" stroke="#000" stroke-width="0.6"/>
<rect x="349.74" y="93.88" width="8.62" height="7.96" fill="#ffffff" stroke="#000" stroke-width="0.6"/>
<rect x="349.74" y="101.84" width="8.62" height="7.96" fill="#ffffff" stroke="#000" stroke-width="0.6"/>
<rect x="349.74" y="109.80" width="8.62" height="7.96" fill="#ffffff" stroke="#000" stroke-width="0.6"/>
<rect x="349.74" y="117.76" width="8.62" height="7.96" fill="#a5cc8f" stroke="#000" stroke-width="0.6"/>
<rect x="349.74" y="125.72" width="8.62" height="7.96" fill="#ffffff" stroke="#000" stroke-width="0.6"/>
<rect x="349.74" y="133.68" width="8.62" height="7.96" fill="#ffffff" stroke="#000" stroke-width="0.6"/>
<rect x="349.74" y="141.64" width="8.62" height="7.96" fill="#ffffff" stroke="#000" stroke-width="0.6"/>
<rect x="349.74" y="149.60" width="8.62" height="7.96" fill="#ffffff" stroke="#000" stroke-width="0.6"/>
<rect x="349.74" y="157.56" width="8.62" height="7.96" fill="#ffffff" stroke="#000" stroke-width="0.6"/>
<rect x="358.36" y="70.00" width="8.62" height="7.96" fill="#3f7530" stroke="#000" stroke-width="0.6"/>
<rect x="358.36" y="77.96" width="8.62" height="7.96" fill="#65a646" stroke="#000" stroke-width="0.6"/>
<rect x="358.36" y="85.92" width="8.62" height="7.96" fill="#65a646" stroke="#000" stroke-width="0.6"/>
<rect x="358.36" y="93.88" width="8.62" height="7.96" fill="#ffffff" stroke="#000" stroke-width="0.6"/>
<rect x="358.36" y="101.84" width="8.62" height="7.96" fill="#ffffff" stroke="#000" stroke-width="0.6"/>
<rect x="358.36" y="109.80" width="8.62" height="7.96" fill="#ffffff" stroke="#000" stroke-width="0.6"/>
<rect x="358.36" y="117.76" width="8.62" height="7.96" fill="#a5cc8f" stroke="#000" stroke-width="0.6"/>
<rect x="358.36" y="125.72" width="8.62" height="7.96" fill="#ffffff" stroke="#000" stroke-width="0.6"/>
<rect x="358.36" y="133.68" width="8.62" height="7.96" fill="#ffffff" stroke="#000" stroke-width="0.6"/>
<rect x="358.36" y="141.64" width="8.62" height="7.96" fill="#a5cc8f" stroke="#000" stroke-width="0.6"/>
<rect x="358.36" y="149.60" width="8.62" height="7.96" fill="#ffffff" stroke="#000" stroke-width="0.6"/>
<rect x="358.36" y="157.56" width="8.62" height="7.96" fill="#ffffff" stroke="#000" stroke-width="0.6"/>
<rect x="366.98" y="70.00" width="8.62" height="7.96" fill="#3f7530" stroke="#000" stroke-width="0.6"/>
<rect x="366.98" y="77.96" width="8.62" height="7.96" fill="#3f7530" stroke="#000" stroke-width="0.6"/>
<rect x="366.98" y="85.92" width="8.62" height="7.96" fill="#559a3d" stroke="#000" stroke-width="0.6"/>
<rect x="366.98" y="93.88" width="8.62" height="7.96" fill="#ffffff" stroke="#000" stroke-width="0.6"/>
<rect x="366.98" y="101.84" width="8.62" height="7.96" fill="#ffffff" stroke="#000" stroke-width="0.6"/>
<rect x="366.98" y="109.80" width="8.62" height="7.96" fill="#ffffff" stroke="#000" stroke-width="0.6"/>
<rect x="366.98" y="117.76" width="8.62" height="7.96" fill="#ffffff" stroke="#000" stroke-width="0.6"/>
<rect x="366.98" y="125.72" width="8.62" height="7.96" fill="#ffffff" stroke="#000" stroke-width="0.6"/>
<rect x="366.98" y="133.68" width="8.62" height="7.96" fill="#ffffff" stroke="#000" stroke-width="0.6"/>
<rect x="366.98" y="141.64" width="8.62" height="7.96" fill="#a5cc8f" stroke="#000" stroke-width="0.6"/>
<rect x="366.98" y="149.60" width="8.62" height="7.96" fill="#ffffff" stroke="#000" stroke-width="0.6"/>
<rect x="366.98" y="157.56" width="8.62" height="7.96" fill="#ffffff" stroke="#000" stroke-width="0.6"/>
<rect x="375.60" y="70.00" width="8.62" height="7.96" fill="#3f7530" stroke="#000" stroke-width="0.6"/>
<rect x="375.60" y="77.96" width="8.62" height="7.96" fill="#65a646" stroke="#000" stroke-width="0.6"/>
<rect x="375.60" y="85.92" width="8.62" height="7.96" fill="#65a646" stroke="#000" stroke-width="0.6"/>
<rect x="375.60" y="93.88" width="8.62" height="7.96" fill="#ffffff" stroke="#000" stroke-width="0.6"/>
<rect x="375.60" y="101.84" width="8.62" height="7.96" fill="#ffffff" stroke="#000" stroke-width="0.6"/>
<rect x="375.60" y="109.80" width="8.62" height="7.96" fill="#ffffff" stroke="#000" stroke-width="0.6"/>
<rect x="375.60" y="117.76" width="8.62" height="7.96" fill="#ffffff" stroke="#000" stroke-width="0.6"/>
<rect x="375.60" y="125.72" width="8.62" height="7.96" fill="#ffffff" stroke="#000" stroke-width="0.6"/>
<rect x="375.60" y="133.68" width="8.62" height="7.96" fill="#ffffff" stroke="#000" stroke-width="0.6"/>
<rect x="375.60" y="141.64" width="8.62" height="7.96" fill="#a5cc8f" stroke="#000" stroke-width="0.6"/>
<rect x="375.60" y="149.60" width="8.62" height="7.96" fill="#ffffff" stroke="#000" stroke-width="0.6"/>
<rect x="375.60" y="157.56" width="8.62" height="7.96" fill="#ffffff" stroke="#000" stroke-width="0.6"/>
<rect x="384.22" y="70.00" width="8.62" height="7.96" fill="#3f7530" stroke="#000" stroke-width="0.6"/>
<rect x="384.22" y="77.96" width="8.62" height="7.96" fill="#3f7530" stroke="#000" stroke-width="0.6"/>
<rect x="384.22" y="85.92" width="8.62" height="7.96" fill="#3f7530" stroke="#000" stroke-width="0.6"/>
<rect x="384.22" y="93.88" width="8.62" height="7.96" fill="#ffffff" stroke="#000" stroke-width="0.6"/>
<rect x="384.22" y="101.84" width="8.62" height="7.96" fill="#a5cc8f" stroke="#000" stroke-width="0.6"/>
<rect x="384.22" y="109.80" width="8.62" height="7.96" fill="#ffffff" stroke="#000" stroke-width="0.6"/>
<rect x="384.22" y="117.76" width="8.62" height="7.96" fill="#559a3d" stroke="#000" stroke-width="0.6"/>
<rect x="384.22" y="125.72" width="8.62" height="7.96" fill="#65a646" stroke="#000" stroke-width="0.6"/>
<rect x="384.22" y="133.68" width="8.62" height="7.96" fill="#65a646" stroke="#000" stroke-width="0.6"/>
<rect x="384.22" y="141.64" width="8.62" height="7.96" fill="#65a646" stroke="#000" stroke-width="0.6"/>
<rect x="384.22" y="149.60" width="8.62" height="7.96" fill="#a5cc8f" stroke="#000" stroke-width="0.6"/>
<rect x="384.22" y="157.56" width="8.62" height="7.96" fill="#65a646" stroke="#000" stroke-width="0.6"/>
<rect x="392.84" y="70.00" width="8.62" height="7.96" fill="#559a3d" stroke="#000" stroke-width="0.6"/>
<rect x="392.84" y="77.96" width="8.62" height="7.96" fill="#559a3d" stroke="#000" stroke-width="0.6"/>
<rect x="392.84" y="85.92" width="8.62" height="7.96" fill="#a5cc8f" stroke="#000" stroke-width="0.6"/>
<rect x="392.84" y="93.88" width="8.62" height="7.96" fill="#f6ea8c" stroke="#000" stroke-width="0.6"/>
<rect x="392.84" y="101.84" width="8.62" height="7.96" fill="#ffffff" stroke="#000" stroke-width="0.6"/>
<rect x="392.84" y="109.80" width="8.62" height="7.96" fill="#f6ea8c" stroke="#000" stroke-width="0.6"/>
<rect x="392.84" y="117.76" width="8.62" height="7.96" fill="#ffffff" stroke="#000" stroke-width="0.6"/>
<rect x="392.84" y="125.72" width="8.62" height="7.96" fill="#ffffff" stroke="#000" stroke-width="0.6"/>
<rect x="392.84" y="133.68" width="8.62" height="7.96" fill="#ffffff" stroke="#000" stroke-width="0.6"/>
<rect x="392.84" y="141.64" width="8.62" height="7.96" fill="#ffffff" stroke="#000" stroke-width="0.6"/>
<rect x="392.84" y="149.60" width="8.62" height="7.96" fill="#ffffff" stroke="#000" stroke-width="0.6"/>
<rect x="392.84" y="157.56" width="8.62" height="7.96" fill="#ffffff" stroke="#000" stroke-width="0.6"/>
<rect x="401.46" y="70.00" width="8.62" height="7.96" fill="#559a3d" stroke="#000" stroke-width="0.6"/>
<rect x="401.46" y="77.96" width="8.62" height="7.96" fill="#65a646" stroke="#000" stroke-width="0.6"/>
<rect x="401.46" y="85.92" width="8.62" height="7.96" fill="#ffffff" stroke="#000" stroke-width="0.6"/>
<rect x="401.46" y="93.88" width="8.62" height="7.96" fill="#ffffff" stroke="#000" stroke-width="0.6"/>
<rect x="401.46" y="101.84" width="8.62" height="7.96" fill="#f6ea8c" stroke="#000" stroke-width="0.6"/>
<rect x="401.46" y="109.80" width="8.62" height="7.96" fill="#ffffff" stroke="#000" stroke-width="0.6"/>
<rect x="401.46" y="117.76" width="8.62" height="7.96" fill="#ffffff" stroke="#000" stroke-width="0.6"/>
<rect x="401.46" y="125.72" width="8.62" height="7.96" fill="#ffffff" stroke="#000" stroke-width="0.6"/>
<rect x="401.46" y="133.68" width="8.62" height="7.96" fill="#ffffff" stroke="#000" stroke-width="0.6"/>
<rect x="401.46" y="141.64" width="8.62" height="7.96" fill="#ffffff" stroke="#000" stroke-width="0.6"/>
<rect x="401.46" y="149.60" width="8.62" height="7.96" fill="#ffffff" stroke="#000" stroke-width="0.6"/>
<rect x="401.46" y="157.56" width="8.62" height="7.96" fill="#ffffff" stroke="#000" stroke-width="0.6"/>
<rect x="410.08" y="70.00" width="8.62" height="7.96" fill="#559a3d" stroke="#000" stroke-width="0.6"/>
<rect x="410.08" y="77.96" width="8.62" height="7.96" fill="#559a3d" stroke="#000" stroke-width="0.6"/>
<rect x="410.08" y="85.92" width="8.62" height="7.96" fill="#559a3d" stroke="#000" stroke-width="0.6"/>
<rect x="410.08" y="93.88" width="8.62" height="7.96" fill="#ffffff" stroke="#000" stroke-width="0.6"/>
<rect x="410.08" y="101.84" width="8.62" height="7.96" fill="#a5cc8f" stroke="#000" stroke-width="0.6"/>
<rect x="410.08" y="109.80" width="8.62" height="7.96" fill="#a5cc8f" stroke="#000" stroke-width="0.6"/>
<rect x="410.08" y="117.76" width="8.62" height="7.96" fill="#65a646" stroke="#000" stroke-width="0.6"/>
<rect x="410.08" y="125.72" width="8.62" height="7.96" fill="#a5cc8f" stroke="#000" stroke-width="0.6"/>
<rect x="410.08" y="133.68" width="8.62" height="7.96" fill="#a5cc8f" stroke="#000" stroke-width="0.6"/>
<rect x="410.08" y="141.64" width="8.62" height="7.96" fill="#a5cc8f" stroke="#000" stroke-width="0.6"/>
<rect x="410.08" y="149.60" width="8.62" height="7.96" fill="#a5cc8f" stroke="#000" stroke-width="0.6"/>
<rect x="410.08" y="157.56" width="8.62" height="7.96" fill="#a5cc8f" stroke="#000" stroke-width="0.6"/>
<rect x="418.70" y="70.00" width="8.62" height="7.96" fill="#3f7530" stroke="#000" stroke-width="0.6"/>
<rect x="418.70" y="77.96" width="8.62" height="7.96" fill="#3f7530" stroke="#000" stroke-width="0.6"/>
<rect x="418.70" y="85.92" width="8.62" height="7.96" fill="#3f7530" stroke="#000" stroke-width="0.6"/>
<rect x="418.70" y="93.88" width="8.62" height="7.96" fill="#559a3d" stroke="#000" stroke-width="0.6"/>
<rect x="418.70" y="101.84" width="8.62" height="7.96" fill="#65a646" stroke="#000" stroke-width="0.6"/>
<rect x="418.70" y="109.80" width="8.62" height="7.96" fill="#ffffff" stroke="#000" stroke-width="0.6"/>
<rect x="418.70" y="117.76" width="8.62" height="7.96" fill="#559a3d" stroke="#000" stroke-width="0.6"/>
<rect x="418.70" y="125.72" width="8.62" height="7.96" fill="#65a646" stroke="#000" stroke-width="0.6"/>
<rect x="418.70" y="133.68" width="8.62" height="7.96" fill="#a5cc8f" stroke="#000" stroke-width="0.6"/>
<rect x="418.70" y="141.64" width="8.62" height="7.96" fill="#a5cc8f" stroke="#000" stroke-width="0.6"/>
<rect x="418.70" y="149.60" width="8.62" height="7.96" fill="#a5cc8f" stroke="#000" stroke-width="0.6"/>
<rect x="418.70" y="157.56" width="8.62" height="7.96" fill="#a5cc8f" stroke="#000" stroke-width="0.6"/>
<rect x="427.32" y="70.00" width="8.62" height="7.96" fill="#3f7530" stroke="#000" stroke-width="0.6"/>
<rect x="427.32" y="77.96" width="8.62" height="7.96" fill="#559a3d" stroke="#000" stroke-width="0.6"/>
<rect x="427.32" y="85.92" width="8.62" height="7.96" fill="#f6ea8c" stroke="#000" stroke-width="0.6"/>
<rect x="427.32" y="93.88" width="8.62" height="7.96" fill="#559a3d" stroke="#000" stroke-width="0.6"/>
<rect x="427.32" y="101.84" width="8.62" height="7.96" fill="#559a3d" stroke="#000" stroke-width="0.6"/>
<rect x="427.32" y="109.80" width="8.62" height="7.96" fill="#a5cc8f" stroke="#000" stroke-width="0.6"/>
<rect x="427.32" y="117.76" width="8.62" height="7.96" fill="#65a646" stroke="#000" stroke-width="0.6"/>
<rect x="427.32" y="125.72" width="8.62" height="7.96" fill="#a5cc8f" stroke="#000" stroke-width="0.6"/>
<rect x="427.32" y="133.68" width="8.62" height="7.96" fill="#a5cc8f" stroke="#000" stroke-width="0.6"/>
<rect x="427.32" y="141.64" width="8.62" height="7.96" fill="#65a646" stroke="#000" stroke-width="0.6"/>
<rect x="427.32" y="149.60" width="8.62" height="7.96" fill="#a5cc8f" stroke="#000" stroke-width="0.6"/>
<rect x="427.32" y="157.56" width="8.62" height="7.96" fill="#a5cc8f" stroke="#000" stroke-width="0.6"/>
<rect x="435.94" y="93.88" width="8.62" height="7.96" fill="#7aa2da" stroke="#000" stroke-width="0.6"/>
<rect x="435.94" y="101.84" width="8.62" height="7.96" fill="#7aa2da" stroke="#000" stroke-width="0.6"/>
<rect x="435.94" y="109.80" width="8.62" height="7.96" fill="#7aa2da" stroke="#000" stroke-width="0.6"/>
<rect x="435.94" y="117.76" width="8.62" height="7.96" fill="#7aa2da" stroke="#000" stroke-width="0.6"/>
<rect x="435.94" y="125.72" width="8.62" height="7.96" fill="#7aa2da" stroke="#000" stroke-width="0.6"/>
<rect x="435.94" y="133.68" width="8.62" height="7.96" fill="#a5323d" stroke="#000" stroke-width="0.6"/>
<rect x="435.94" y="141.64" width="8.62" height="7.96" fill="#7aa2da" stroke="#000" stroke-width="0.6"/>
<rect x="435.94" y="149.60" width="8.62" height="7.96" fill="#a5323d" stroke="#000" stroke-width="0.6"/>
<rect x="435.94" y="157.56" width="8.62" height="7.96" fill="#7aa2da" stroke="#000" stroke-width="0.6"/>
<rect x="444.56" y="93.88" width="8.62" height="7.96" fill="#b0caed" stroke="#000" stroke-width="0.6"/>
<rect x="444.56" y="101.84" width="8.62" height="7.96" fill="#7aa2da" stroke="#000" stroke-width="0.6"/>
<rect x="444.56" y="109.80" width="8.62" height="7.96" fill="#7aa2da" stroke="#000" stroke-width="0.6"/>
<rect x="444.56" y="117.76" width="8.62" height="7.96" fill="#d04655" stroke="#000" stroke-width="0.6"/>
<rect x="444.56" y="125.72" width="8.62" height="7.96" fill="#d04655" stroke="#000" stroke-width="0.6"/>
<rect x="444.56" y="133.68" width="8.62" height="7.96" fill="#d04655" stroke="#000" stroke-width="0.6"/>
<rect x="444.56" y="141.64" width="8.62" height="7.96" fill="#dc6876" stroke="#000" stroke-width="0.6"/>
<rect x="444.56" y="149.60" width="8.62" height="7.96" fill="#7aa2da" stroke="#000" stroke-width="0.6"/>
<rect x="444.56" y="157.56" width="8.62" height="7.96" fill="#d04655" stroke="#000" stroke-width="0.6"/>
<rect x="453.18" y="93.88" width="8.62" height="7.96" fill="#7aa2da" stroke="#000" stroke-width="0.6"/>
<rect x="453.18" y="101.84" width="8.62" height="7.96" fill="#7aa2da" stroke="#000" stroke-width="0.6"/>
<rect x="453.18" y="109.80" width="8.62" height="7.96" fill="#ffffff" stroke="#000" stroke-width="0.6"/>
<rect x="453.18" y="117.76" width="8.62" height="7.96" fill="#dc6876" stroke="#000" stroke-width="0.6"/>
<rect x="453.18" y="125.72" width="8.62" height="7.96" fill="#dc6876" stroke="#000" stroke-width="0.6"/>
<rect x="453.18" y="133.68" width="8.62" height="7.96" fill="#dc6876" stroke="#000" stroke-width="0.6"/>
<rect x="453.18" y="141.64" width="8.62" height="7.96" fill="#b0caed" stroke="#000" stroke-width="0.6"/>
<rect x="453.18" y="149.60" width="8.62" height="7.96" fill="#ffffff" stroke="#000" stroke-width="0.6"/>
<rect x="453.18" y="157.56" width="8.62" height="7.96" fill="#dc6876" stroke="#000" stroke-width="0.6"/>
<rect x="461.80" y="117.76" width="8.62" height="7.96" fill="#7aa2da" stroke="#000" stroke-width="0.6"/>
<rect x="461.80" y="125.72" width="8.62" height="7.96" fill="#e8a0a8" stroke="#000" stroke-width="0.6"/>
<rect x="461.80" y="133.68" width="8.62" height="7.96" fill="#ffffff" stroke="#000" stroke-width="0.6"/>
<rect x="461.80" y="141.64" width="8.62" height="7.96" fill="#5e89cb" stroke="#000" stroke-width="0.6"/>
<rect x="461.80" y="149.60" width="8.62" height="7.96" fill="#5e89cb" stroke="#000" stroke-width="0.6"/>
<rect x="461.80" y="157.56" width="8.62" height="7.96" fill="#5e89cb" stroke="#000" stroke-width="0.6"/>
<rect x="470.42" y="117.76" width="8.62" height="7.96" fill="#b0caed" stroke="#000" stroke-width="0.6"/>
<rect x="470.42" y="125.72" width="8.62" height="7.96" fill="#ffffff" stroke="#000" stroke-width="0.6"/>
<rect x="470.42" y="133.68" width="8.62" height="7.96" fill="#cadcf3" stroke="#000" stroke-width="0.6"/>
<rect x="470.42" y="141.64" width="8.62" height="7.96" fill="#5e89cb" stroke="#000" stroke-width="0.6"/>
<rect x="470.42" y="149.60" width="8.62" height="7.96" fill="#5e89cb" stroke="#000" stroke-width="0.6"/>
<rect x="470.42" y="157.56" width="8.62" height="7.96" fill="#5e89cb" stroke="#000" stroke-width="0.6"/>
<rect x="479.04" y="117.76" width="8.62" height="7.96" fill="#b0caed" stroke="#000" stroke-width="0.6"/>
<rect x="479.04" y="125.72" width="8.62" height="7.96" fill="#cadcf3" stroke="#000" stroke-width="0.6"/>
<rect x="479.04" y="133.68" width="8.62" height="7.96" fill="#cadcf3" stroke="#000" stroke-width="0.6"/>
<rect x="479.04" y="141.64" width="8.62" height="7.96" fill="#7aa2da" stroke="#000" stroke-width="0.6"/>
<rect x="479.04" y="149.60" width="8.62" height="7.96" fill="#7aa2da" stroke="#000" stroke-width="0.6"/>
<rect x="479.04" y="157.56" width="8.62" height="7.96" fill="#7aa2da" stroke="#000" stroke-width="0.6"/>
<rect x="487.66" y="141.64" width="8.62" height="7.96" fill="#b0caed" stroke="#000" stroke-width="0.6"/>
<rect x="487.66" y="149.60" width="8.62" height="7.96" fill="#b0caed" stroke="#000" stroke-width="0.6"/>
<rect x="487.66" y="157.56" width="8.62" height="7.96" fill="#cadcf3" stroke="#000" stroke-width="0.6"/>
<rect x="496.28" y="141.64" width="8.62" height="7.96" fill="#a5323d" stroke="#000" stroke-width="0.6"/>
<rect x="496.28" y="149.60" width="8.62" height="7.96" fill="#a5323d" stroke="#000" stroke-width="0.6"/>
<rect x="496.28" y="157.56" width="8.62" height="7.96" fill="#d04655" stroke="#000" stroke-width="0.6"/>
<rect x="504.90" y="141.64" width="8.62" height="7.96" fill="#a5323d" stroke="#000" stroke-width="0.6"/>
<rect x="504.90" y="149.60" width="8.62" height="7.96" fill="#d04655" stroke="#000" stroke-width="0.6"/>
<rect x="504.90" y="157.56" width="8.62" height="7.96" fill="#d04655" stroke="#000" stroke-width="0.6"/>
<rect x="332.50" y="70.00" width="25.86" height="23.88" fill="none" stroke="#000" stroke-width="1.1"/>
<rect x="332.50" y="93.88" width="25.86" height="23.88" fill="none" stroke="#000" stroke-width="1.1"/>
<rect x="332.50" y="117.76" width="25.86" height="23.88" fill="none" stroke="#000" stroke-width="1.1"/>
<rect x="332.50" y="141.64" width="25.86" height="23.88" fill="none" stroke="#000" stroke-width="1.1"/>
<rect x="358.36" y="70.00" width="25.86" height="23.88" fill="none" stroke="#000" stroke-width="1.1"/>
<rect x="358.36" y="93.88" width="25.86" height="23.88" fill="none" stroke="#000" stroke-width="1.1"/>
<rect x="358.36" y="117.76" width="25.86" height="23.88" fill="none" stroke="#000" stroke-width="1.1"/>
<rect x="358.36" y="141.64" width="25.86" height="23.88" fill="none" stroke="#000" stroke-width="1.1"/>
<rect x="384.22" y="70.00" width="25.86" height="23.88" fill="none" stroke="#000" stroke-width="1.1"/>
<rect x="384.22" y="93.88" width="25.86" height="23.88" fill="none" stroke="#000" stroke-width="1.1"/>
<rect x="384.22" y="117.76" width="25.86" height="23.88" fill="none" stroke="#000" stroke-width="1.1"/>
<rect x="384.22" y="141.64" width="25.86" height="23.88" fill="none" stroke="#000" stroke-width="1.1"/>
<rect x="410.08" y="70.00" width="25.86" height="23.88" fill="none" stroke="#000" stroke-width="1.1"/>
<rect x="410.08" y="93.88" width="25.86" height="23.88" fill="none" stroke="#000" stroke-width="1.1"/>
<rect x="410.08" y="117.76" width="25.86" height="23.88" fill="none" stroke="#000" stroke-width="1.1"/>
<rect x="410.08" y="141.64" width="25.86" height="23.88" fill="none" stroke="#000" stroke-width="1.1"/>
<rect x="435.94" y="93.88" width="25.86" height="23.88" fill="none" stroke="#000" stroke-width="1.1"/>
<rect x="435.94" y="117.76" width="25.86" height="23.88" fill="none" stroke="#000" stroke-width="1.1"/>
<rect x="435.94" y="141.64" width="25.86" height="23.88" fill="none" stroke="#000" stroke-width="1.1"/>
<rect x="461.80" y="117.76" width="25.86" height="23.88" fill="none" stroke="#000" stroke-width="1.1"/>
<rect x="461.80" y="141.64" width="25.86" height="23.88" fill="none" stroke="#000" stroke-width="1.1"/>
<rect x="487.66" y="141.64" width="25.86" height="23.88" fill="none" stroke="#000" stroke-width="1.1"/>
<text x="329.60" y="174.20" font-size="5.4" text-anchor="end" fill="#111">µM</text>
<text x="340.31" y="171.00" font-size="5.2" text-anchor="end" fill="#111" transform="rotate(-58 340.31 171.0)">50</text>
<text x="348.93" y="171.00" font-size="5.2" text-anchor="end" fill="#111" transform="rotate(-58 348.93 171.0)">5.55</text>
<text x="357.55" y="171.00" font-size="5.2" text-anchor="end" fill="#111" transform="rotate(-58 357.55 171.0)">0.62</text>
<text x="366.17" y="171.00" font-size="5.2" text-anchor="end" fill="#111" transform="rotate(-58 366.17 171.0)">10</text>
<text x="374.79" y="171.00" font-size="5.2" text-anchor="end" fill="#111" transform="rotate(-58 374.79 171.0)">1.11</text>
<text x="383.41" y="171.00" font-size="5.2" text-anchor="end" fill="#111" transform="rotate(-58 383.40999999999997 171.0)">0.12</text>
<text x="392.03" y="171.00" font-size="5.2" text-anchor="end" fill="#111" transform="rotate(-58 392.03 171.0)">10</text>
<text x="400.65" y="171.00" font-size="5.2" text-anchor="end" fill="#111" transform="rotate(-58 400.65 171.0)">1.11</text>
<text x="409.27" y="171.00" font-size="5.2" text-anchor="end" fill="#111" transform="rotate(-58 409.27 171.0)">0.12</text>
<text x="417.89" y="171.00" font-size="5.2" text-anchor="end" fill="#111" transform="rotate(-58 417.89 171.0)">11.11</text>
<text x="426.51" y="171.00" font-size="5.2" text-anchor="end" fill="#111" transform="rotate(-58 426.51 171.0)">1.23</text>
<text x="435.13" y="171.00" font-size="5.2" text-anchor="end" fill="#111" transform="rotate(-58 435.13 171.0)">0.14</text>
<text x="443.75" y="171.00" font-size="5.2" text-anchor="end" fill="#111" transform="rotate(-58 443.75 171.0)">1.85</text>
<text x="452.37" y="171.00" font-size="5.2" text-anchor="end" fill="#111" transform="rotate(-58 452.37 171.0)">0.62</text>
<text x="460.99" y="171.00" font-size="5.2" text-anchor="end" fill="#111" transform="rotate(-58 460.99 171.0)">0.21</text>
<text x="469.61" y="171.00" font-size="5.2" text-anchor="end" fill="#111" transform="rotate(-58 469.61 171.0)">1.85</text>
<text x="478.23" y="171.00" font-size="5.2" text-anchor="end" fill="#111" transform="rotate(-58 478.23 171.0)">0.62</text>
<text x="486.85" y="171.00" font-size="5.2" text-anchor="end" fill="#111" transform="rotate(-58 486.85 171.0)">0.21</text>
<text x="495.47" y="171.00" font-size="5.2" text-anchor="end" fill="#111" transform="rotate(-58 495.47 171.0)">0.0014</text>
<text x="504.09" y="171.00" font-size="5.2" text-anchor="end" fill="#111" transform="rotate(-58 504.09 171.0)">0.0005</text>
<text x="512.71" y="171.00" font-size="5.2" text-anchor="end" fill="#111" transform="rotate(-58 512.71 171.0)">0.0002</text>
<text x="309.40" y="199.80" font-size="6.3" text-anchor="start" fill="#111" text-decoration="underline">Drug 2:</text>
<text x="348.03" y="191.40" font-size="6.0" text-anchor="end" fill="#111" transform="rotate(-60 348.03000000000003 191.4)">Bexarotene</text>
<text x="373.89" y="191.40" font-size="6.0" text-anchor="end" fill="#111" transform="rotate(-60 373.89000000000004 191.4)">Methotrexate</text>
<text x="399.75" y="191.40" font-size="6.0" text-anchor="end" fill="#111" transform="rotate(-60 399.75 191.4)">Talazoparib</text>
<text x="425.61" y="191.40" font-size="6.0" text-anchor="end" fill="#111" transform="rotate(-60 425.61 191.4)">Ruxolitinib</text>
<text x="451.47" y="191.40" font-size="6.0" text-anchor="end" fill="#111" transform="rotate(-60 451.47 191.4)">Venetoclax</text>
<text x="477.33" y="191.40" font-size="6.0" text-anchor="end" fill="#111" transform="rotate(-60 477.33000000000004 191.4)">Vorinostat</text>
<text x="503.19" y="191.40" font-size="6.0" text-anchor="end" fill="#111" transform="rotate(-60 503.19 191.4)">Bortezomib</text>
<text x="7.00" y="16.70" font-size="11.5" text-anchor="start" font-weight="bold" fill="#111">A</text>
<rect x="226.30" y="242.60" width="12.99" height="11.20" fill="#5a87cc"/>
<rect x="238.99" y="242.60" width="12.99" height="11.20" fill="#729bd6"/>
<rect x="251.68" y="242.60" width="12.99" height="11.20" fill="#a5c3ea"/>
<rect x="264.37" y="242.60" width="12.99" height="11.20" fill="#c8dbf3"/>
<rect x="277.06" y="242.60" width="12.99" height="11.20" fill="#ffffff"/>
<rect x="289.74" y="242.60" width="12.99" height="11.20" fill="#e8a0a8"/>
<rect x="302.43" y="242.60" width="12.99" height="11.20" fill="#db6b78"/>
<rect x="315.12" y="242.60" width="12.99" height="11.20" fill="#c94150"/>
<rect x="327.81" y="242.60" width="12.99" height="11.20" fill="#9e2f3b"/>
<rect x="226.30" y="242.60" width="114.20" height="11.20" fill="none" stroke="#222" stroke-width="0.9"/>
<line x1="232.64" y1="242.60" x2="232.64" y2="244.10" stroke="#000" stroke-width="0.8"/>
<line x1="232.64" y1="252.30" x2="232.64" y2="253.80" stroke="#000" stroke-width="0.8"/>
<line x1="232.64" y1="258.30" x2="232.64" y2="259.60" stroke="#000" stroke-width="0.8"/>
<text x="235.24" y="260.60" font-size="6" text-anchor="end" fill="#111" transform="rotate(-50 235.24444444444444 260.6)">Very Strong Synergy</text>
<line x1="245.33" y1="242.60" x2="245.33" y2="244.10" stroke="#000" stroke-width="0.8"/>
<line x1="245.33" y1="252.30" x2="245.33" y2="253.80" stroke="#000" stroke-width="0.8"/>
<line x1="245.33" y1="258.30" x2="245.33" y2="259.60" stroke="#000" stroke-width="0.8"/>
<text x="247.93" y="260.60" font-size="6" text-anchor="end" fill="#111" transform="rotate(-50 247.93333333333334 260.6)">Strong Synergy</text>
<line x1="258.02" y1="242.60" x2="258.02" y2="244.10" stroke="#000" stroke-width="0.8"/>
<line x1="258.02" y1="252.30" x2="258.02" y2="253.80" stroke="#000" stroke-width="0.8"/>
<line x1="258.02" y1="258.30" x2="258.02" y2="259.60" stroke="#000" stroke-width="0.8"/>
<text x="260.62" y="260.60" font-size="6" text-anchor="end" fill="#111" transform="rotate(-50 260.62222222222226 260.6)">Synergy</text>
<line x1="270.71" y1="242.60" x2="270.71" y2="244.10" stroke="#000" stroke-width="0.8"/>
<line x1="270.71" y1="252.30" x2="270.71" y2="253.80" stroke="#000" stroke-width="0.8"/>
<line x1="270.71" y1="258.30" x2="270.71" y2="259.60" stroke="#000" stroke-width="0.8"/>
<text x="273.31" y="260.60" font-size="6" text-anchor="end" fill="#111" transform="rotate(-50 273.31111111111113 260.6)">Slight-Moderate Synergy</text>
<line x1="283.40" y1="242.60" x2="283.40" y2="244.10" stroke="#000" stroke-width="0.8"/>
<line x1="283.40" y1="252.30" x2="283.40" y2="253.80" stroke="#000" stroke-width="0.8"/>
<line x1="283.40" y1="258.30" x2="283.40" y2="259.60" stroke="#000" stroke-width="0.8"/>
<text x="286.00" y="260.60" font-size="6" text-anchor="end" fill="#111" transform="rotate(-50 286.0 260.6)">Additive</text>
<line x1="296.09" y1="242.60" x2="296.09" y2="244.10" stroke="#000" stroke-width="0.8"/>
<line x1="296.09" y1="252.30" x2="296.09" y2="253.80" stroke="#000" stroke-width="0.8"/>
<line x1="296.09" y1="258.30" x2="296.09" y2="259.60" stroke="#000" stroke-width="0.8"/>
<text x="298.69" y="260.60" font-size="6" text-anchor="end" fill="#111" transform="rotate(-50 298.6888888888889 260.6)">Slight-Moderate Antagonism</text>
<line x1="308.78" y1="242.60" x2="308.78" y2="244.10" stroke="#000" stroke-width="0.8"/>
<line x1="308.78" y1="252.30" x2="308.78" y2="253.80" stroke="#000" stroke-width="0.8"/>
<line x1="308.78" y1="258.30" x2="308.78" y2="259.60" stroke="#000" stroke-width="0.8"/>
<text x="311.38" y="260.60" font-size="6" text-anchor="end" fill="#111" transform="rotate(-50 311.3777777777778 260.6)">Antagonism</text>
<line x1="321.47" y1="242.60" x2="321.47" y2="244.10" stroke="#000" stroke-width="0.8"/>
<line x1="321.47" y1="252.30" x2="321.47" y2="253.80" stroke="#000" stroke-width="0.8"/>
<line x1="321.47" y1="258.30" x2="321.47" y2="259.60" stroke="#000" stroke-width="0.8"/>
<text x="324.07" y="260.60" font-size="6" text-anchor="end" fill="#111" transform="rotate(-50 324.0666666666667 260.6)">Strong Antagonism</text>
<line x1="334.16" y1="242.60" x2="334.16" y2="244.10" stroke="#000" stroke-width="0.8"/>
<line x1="334.16" y1="252.30" x2="334.16" y2="253.80" stroke="#000" stroke-width="0.8"/>
<line x1="334.16" y1="258.30" x2="334.16" y2="259.60" stroke="#000" stroke-width="0.8"/>
<text x="336.76" y="260.60" font-size="6" text-anchor="end" fill="#111" transform="rotate(-50 336.7555555555556 260.6)">Very Strong Antagonism</text>
<text x="283.40" y="238.10" font-size="8" text-anchor="middle" fill="#2e2e2e">Synergy Scale</text>
<rect x="359.60" y="242.60" width="13.74" height="11.20" fill="#3f7530"/>
<rect x="373.04" y="242.60" width="13.74" height="11.20" fill="#4f9538"/>
<rect x="386.49" y="242.60" width="13.74" height="11.20" fill="#68a845"/>
<rect x="399.93" y="242.60" width="13.74" height="11.20" fill="#a3cb8e"/>
<rect x="413.38" y="242.60" width="13.74" height="11.20" fill="#ffffff"/>
<rect x="426.82" y="242.60" width="13.74" height="11.20" fill="#fbf1a5"/>
<rect x="440.27" y="242.60" width="13.74" height="11.20" fill="#f7eb8f"/>
<rect x="453.71" y="242.60" width="13.74" height="11.20" fill="#f7e535"/>
<rect x="467.16" y="242.60" width="13.74" height="11.20" fill="#efdd3c"/>
<rect x="359.60" y="242.60" width="121.00" height="11.20" fill="none" stroke="#222" stroke-width="0.9"/>
<line x1="366.32" y1="242.60" x2="366.32" y2="244.10" stroke="#000" stroke-width="0.8"/>
<line x1="366.32" y1="252.30" x2="366.32" y2="253.80" stroke="#000" stroke-width="0.8"/>
<line x1="366.32" y1="258.30" x2="366.32" y2="259.60" stroke="#000" stroke-width="0.8"/>
<text x="368.92" y="260.60" font-size="6" text-anchor="end" fill="#111" transform="rotate(-50 368.9222222222223 260.6)">Very Strong Potentiation</text>
<line x1="379.77" y1="242.60" x2="379.77" y2="244.10" stroke="#000" stroke-width="0.8"/>
<line x1="379.77" y1="252.30" x2="379.77" y2="253.80" stroke="#000" stroke-width="0.8"/>
<line x1="379.77" y1="258.30" x2="379.77" y2="259.60" stroke="#000" stroke-width="0.8"/>
<text x="382.37" y="260.60" font-size="6" text-anchor="end" fill="#111" transform="rotate(-50 382.36666666666673 260.6)">Strong Potentiation</text>
<line x1="393.21" y1="242.60" x2="393.21" y2="244.10" stroke="#000" stroke-width="0.8"/>
<line x1="393.21" y1="252.30" x2="393.21" y2="253.80" stroke="#000" stroke-width="0.8"/>
<line x1="393.21" y1="258.30" x2="393.21" y2="259.60" stroke="#000" stroke-width="0.8"/>
<text x="395.81" y="260.60" font-size="6" text-anchor="end" fill="#111" transform="rotate(-50 395.81111111111113 260.6)">Potentiation</text>
<line x1="406.66" y1="242.60" x2="406.66" y2="244.10" stroke="#000" stroke-width="0.8"/>
<line x1="406.66" y1="252.30" x2="406.66" y2="253.80" stroke="#000" stroke-width="0.8"/>
<line x1="406.66" y1="258.30" x2="406.66" y2="259.60" stroke="#000" stroke-width="0.8"/>
<text x="409.26" y="260.60" font-size="6" text-anchor="end" fill="#111" transform="rotate(-50 409.2555555555556 260.6)">Slight-Moderate Potentiation</text>
<line x1="420.10" y1="242.60" x2="420.10" y2="244.10" stroke="#000" stroke-width="0.8"/>
<line x1="420.10" y1="252.30" x2="420.10" y2="253.80" stroke="#000" stroke-width="0.8"/>
<line x1="420.10" y1="258.30" x2="420.10" y2="259.60" stroke="#000" stroke-width="0.8"/>
<text x="422.70" y="260.60" font-size="6" text-anchor="end" fill="#111" transform="rotate(-50 422.70000000000005 260.6)">No Effect</text>
<line x1="433.54" y1="242.60" x2="433.54" y2="244.10" stroke="#000" stroke-width="0.8"/>
<line x1="433.54" y1="252.30" x2="433.54" y2="253.80" stroke="#000" stroke-width="0.8"/>
<line x1="433.54" y1="258.30" x2="433.54" y2="259.60" stroke="#000" stroke-width="0.8"/>
<text x="436.14" y="260.60" font-size="6" text-anchor="end" fill="#111" transform="rotate(-50 436.1444444444445 260.6)">Slight-Moderate Antagonism</text>
<line x1="446.99" y1="242.60" x2="446.99" y2="244.10" stroke="#000" stroke-width="0.8"/>
<line x1="446.99" y1="252.30" x2="446.99" y2="253.80" stroke="#000" stroke-width="0.8"/>
<line x1="446.99" y1="258.30" x2="446.99" y2="259.60" stroke="#000" stroke-width="0.8"/>
<text x="449.59" y="260.60" font-size="6" text-anchor="end" fill="#111" transform="rotate(-50 449.58888888888896 260.6)">Antagonism</text>
<line x1="460.43" y1="242.60" x2="460.43" y2="244.10" stroke="#000" stroke-width="0.8"/>
<line x1="460.43" y1="252.30" x2="460.43" y2="253.80" stroke="#000" stroke-width="0.8"/>
<line x1="460.43" y1="258.30" x2="460.43" y2="259.60" stroke="#000" stroke-width="0.8"/>
<text x="463.03" y="260.60" font-size="6" text-anchor="end" fill="#111" transform="rotate(-50 463.03333333333336 260.6)">Strong Antagonism</text>
<line x1="473.88" y1="242.60" x2="473.88" y2="244.10" stroke="#000" stroke-width="0.8"/>
<line x1="473.88" y1="252.30" x2="473.88" y2="253.80" stroke="#000" stroke-width="0.8"/>
<line x1="473.88" y1="258.30" x2="473.88" y2="259.60" stroke="#000" stroke-width="0.8"/>
<text x="476.48" y="260.60" font-size="6" text-anchor="end" fill="#111" transform="rotate(-50 476.4777777777778 260.6)">Very Strong Antagonism</text>
<text x="420.10" y="238.10" font-size="8" text-anchor="middle" fill="#2e2e2e">Potentiation Scale</text>
<text x="7.00" y="339.40" font-size="11.5" text-anchor="start" font-weight="bold" fill="#111">B</text>
<text x="28.60" y="355.20" font-size="9" text-anchor="middle" font-weight="bold" fill="#111">i</text>
<text x="283.30" y="355.20" font-size="9" text-anchor="middle" font-weight="bold" fill="#111">ii</text>
<text x="18.00" y="383.20" font-size="6" text-anchor="start" font-weight="bold" fill="#111" text-decoration="underline">Drug 1:</text>
<text x="18.00" y="532.00" font-size="6" text-anchor="start" font-weight="bold" fill="#111" text-decoration="underline">Drug 2:</text>
<text x="18.00" y="556.00" font-size="6" text-anchor="start" fill="#111" text-decoration="underline">Average CI:</text>
<text x="269.50" y="551.80" font-size="6" text-anchor="start" fill="#111" text-decoration="underline">Average Fold</text>
<text x="269.50" y="559.40" font-size="6" text-anchor="start" fill="#111" text-decoration="underline">Improvement:</text>
<rect x="70.00" y="389.90" width="172.70" height="19.00" fill="#e8f1fa"/>
<rect x="70.00" y="408.70" width="172.70" height="15.70" fill="#d3e4f4"/>
<rect x="70.00" y="424.20" width="172.70" height="17.00" fill="#bed7ee"/>
<rect x="70.00" y="441.00" width="172.70" height="39.40" fill="#a8cbea"/>
<rect x="70.00" y="480.20" width="172.70" height="15.80" fill="#8fbce5"/>
<rect x="70.00" y="495.80" width="172.70" height="10.70" fill="#78aee0"/>
<line x1="70.00" y1="429.60" x2="242.70" y2="429.60" stroke="#333" stroke-width="0.9" stroke-dasharray="0.9,0.9"/>
<line x1="140.40" y1="389.90" x2="140.40" y2="506.30" stroke="#222" stroke-width="0.9" stroke-dasharray="3,2.2"/>
<line x1="188.70" y1="389.90" x2="188.70" y2="506.30" stroke="#222" stroke-width="0.9" stroke-dasharray="3,2.2"/>
<line x1="220.50" y1="389.90" x2="220.50" y2="506.30" stroke="#222" stroke-width="0.9" stroke-dasharray="3,2.2"/>
<line x1="69.80" y1="388.10" x2="69.80" y2="399.50" stroke="#000" stroke-width="1"/>
<line x1="68.20" y1="399.50" x2="71.40" y2="399.50" stroke="#000" stroke-width="0.9"/>
<line x1="69.80" y1="406.20" x2="69.80" y2="506.80" stroke="#000" stroke-width="1"/>
<line x1="68.20" y1="406.20" x2="71.40" y2="406.20" stroke="#000" stroke-width="0.9"/>
<line x1="66.80" y1="506.50" x2="242.70" y2="506.50" stroke="#000" stroke-width="1"/>
<line x1="67.00" y1="390.30" x2="69.80" y2="390.30" stroke="#000" stroke-width="0.9"/>
<text x="63.80" y="392.50" font-size="6" text-anchor="end" fill="#111">30</text>
<line x1="67.00" y1="414.24" x2="69.80" y2="414.24" stroke="#000" stroke-width="0.9"/>
<text x="63.80" y="416.39" font-size="6" text-anchor="end" fill="#111">1.2</text>
<line x1="67.00" y1="429.60" x2="69.80" y2="429.60" stroke="#000" stroke-width="0.9"/>
<text x="63.80" y="431.75" font-size="6" text-anchor="end" fill="#111">1.0</text>
<line x1="67.00" y1="444.96" x2="69.80" y2="444.96" stroke="#000" stroke-width="0.9"/>
<text x="63.80" y="447.11" font-size="6" text-anchor="end" fill="#111">0.8</text>
<line x1="67.00" y1="460.32" x2="69.80" y2="460.32" stroke="#000" stroke-width="0.9"/>
<text x="63.80" y="462.47" font-size="6" text-anchor="end" fill="#111">0.6</text>
<line x1="67.00" y1="475.68" x2="69.80" y2="475.68" stroke="#000" stroke-width="0.9"/>
<text x="63.80" y="477.83" font-size="6" text-anchor="end" fill="#111">0.4</text>
<line x1="67.00" y1="491.04" x2="69.80" y2="491.04" stroke="#000" stroke-width="0.9"/>
<text x="63.80" y="493.19" font-size="6" text-anchor="end" fill="#111">0.2</text>
<line x1="67.00" y1="506.40" x2="69.80" y2="506.40" stroke="#000" stroke-width="0.9"/>
<text x="63.80" y="508.55" font-size="6" text-anchor="end" fill="#111">0.0</text>
<text transform="translate(49.7,471.5) rotate(-90)" font-size="9" textLength="46.6" fill="#111" lengthAdjust="spacingAndGlyphs">Combination index</text>
<line x1="84.50" y1="506.50" x2="84.50" y2="510.00" stroke="#000" stroke-width="1"/>
<text x="87.50" y="515.30" font-size="6" text-anchor="end" fill="#111" transform="rotate(-60 87.5 515.3)">Venetoclax</text>
<line x1="100.50" y1="506.50" x2="100.50" y2="510.00" stroke="#000" stroke-width="1"/>
<text x="103.50" y="515.30" font-size="6" text-anchor="end" fill="#111" transform="rotate(-60 103.5 515.3)">Vorinostat</text>
<line x1="116.50" y1="506.50" x2="116.50" y2="510.00" stroke="#000" stroke-width="1"/>
<text x="119.50" y="515.30" font-size="6" text-anchor="end" fill="#111" transform="rotate(-60 119.5 515.3)">Bortezomib</text>
<line x1="132.50" y1="506.50" x2="132.50" y2="510.00" stroke="#000" stroke-width="1"/>
<text x="135.50" y="515.30" font-size="6" text-anchor="end" fill="#111" transform="rotate(-60 135.5 515.3)">Mivebresib</text>
<line x1="148.50" y1="506.50" x2="148.50" y2="510.00" stroke="#000" stroke-width="1"/>
<text x="151.50" y="515.30" font-size="6" text-anchor="end" fill="#111" transform="rotate(-60 151.5 515.3)">Vorinostat</text>
<line x1="164.50" y1="506.50" x2="164.50" y2="510.00" stroke="#000" stroke-width="1"/>
<text x="167.50" y="515.30" font-size="6" text-anchor="end" fill="#111" transform="rotate(-60 167.5 515.3)">Bortezomib</text>
<line x1="180.50" y1="506.50" x2="180.50" y2="510.00" stroke="#000" stroke-width="1"/>
<text x="183.50" y="515.30" font-size="6" text-anchor="end" fill="#111" transform="rotate(-60 183.5 515.3)">Mivebresib</text>
<line x1="196.50" y1="506.50" x2="196.50" y2="510.00" stroke="#000" stroke-width="1"/>
<text x="199.50" y="515.30" font-size="6" text-anchor="end" fill="#111" transform="rotate(-60 199.5 515.3)">Bortezomib</text>
<line x1="212.50" y1="506.50" x2="212.50" y2="510.00" stroke="#000" stroke-width="1"/>
<text x="215.50" y="515.30" font-size="6" text-anchor="end" fill="#111" transform="rotate(-60 215.5 515.3)">Mivebresib</text>
<line x1="228.50" y1="506.50" x2="228.50" y2="510.00" stroke="#000" stroke-width="1"/>
<text x="231.50" y="515.30" font-size="6" text-anchor="end" fill="#111" transform="rotate(-60 231.5 515.3)">Bortezomib</text>
<text x="105.00" y="383.00" font-size="6" text-anchor="middle" fill="#111">Ruxolitinib</text>
<text x="164.50" y="383.00" font-size="6" text-anchor="middle" fill="#111">Venetoclax</text>
<text x="204.60" y="383.00" font-size="6" text-anchor="middle" fill="#111">Vorinostat</text>
<text x="238.30" y="383.00" font-size="6" text-anchor="middle" fill="#111">Mivebresib</text>
<text x="71.90" y="555.60" font-size="5.2" text-anchor="middle" fill="#111">0.0016</text>
<text x="90.00" y="555.60" font-size="5.2" text-anchor="middle" fill="#111">0.13</text>
<text x="106.00" y="555.60" font-size="5.2" text-anchor="middle" fill="#111">0.57</text>
<text x="123.60" y="555.60" font-size="5.2" text-anchor="middle" fill="#111">6.3</text>
<text x="137.60" y="555.60" font-size="5.2" text-anchor="middle" fill="#111">0.30</text>
<text x="154.00" y="555.60" font-size="5.2" text-anchor="middle" fill="#111">0.43</text>
<text x="170.30" y="555.60" font-size="5.2" text-anchor="middle" fill="#111">0.050</text>
<text x="189.70" y="555.60" font-size="5.2" text-anchor="middle" fill="#111">0.28</text>
<text x="206.00" y="555.60" font-size="5.2" text-anchor="middle" fill="#111">0.25</text>
<text x="226.20" y="555.60" font-size="5.2" text-anchor="middle" fill="#111">0.50</text>
<line x1="250.50" y1="389.90" x2="250.50" y2="503.00" stroke="#1f3f88" stroke-width="1.1"/>
<path d="M247.8,500.2 L250.5,506.6 L253.2,500.2 L250.5,501.6 Z" fill="#1f3f88"/>
<text transform="translate(258.8,448.2) rotate(-90)" font-size="6.2" text-anchor="middle" fill="#2a4890">More Synergy</text>
<rect x="306.00" y="389.90" width="178.80" height="16.20" fill="#68a744"/>
<rect x="306.00" y="405.90" width="178.80" height="17.10" fill="#86b667"/>
<rect x="306.00" y="422.80" width="178.80" height="28.20" fill="#a3c98b"/>
<rect x="306.00" y="450.80" width="178.80" height="22.20" fill="#b6d5a2"/>
<rect x="306.00" y="472.80" width="178.80" height="21.60" fill="#cae1b9"/>
<rect x="306.00" y="494.20" width="178.80" height="12.30" fill="#e2eed8"/>
<line x1="306.00" y1="493.80" x2="484.80" y2="493.80" stroke="#222" stroke-width="0.9" stroke-dasharray="1,1"/>
<line x1="379.20" y1="389.90" x2="379.20" y2="506.30" stroke="#222" stroke-width="0.9" stroke-dasharray="3,2.2"/>
<line x1="428.20" y1="389.90" x2="428.20" y2="506.30" stroke="#222" stroke-width="0.9" stroke-dasharray="3,2.2"/>
<line x1="461.50" y1="389.90" x2="461.50" y2="506.30" stroke="#222" stroke-width="0.9" stroke-dasharray="3,2.2"/>
<line x1="305.90" y1="388.10" x2="305.90" y2="506.80" stroke="#000" stroke-width="1"/>
<line x1="303.00" y1="506.50" x2="484.80" y2="506.50" stroke="#000" stroke-width="1"/>
<line x1="303.10" y1="506.68" x2="305.90" y2="506.68" stroke="#000" stroke-width="0.9"/>
<text x="297.0" y="508.98" font-size="6.4" text-anchor="end" fill="#111">2</text>
<text x="297.3" y="506.18" font-size="4.0" fill="#111">-1</text>
<line x1="303.10" y1="493.80" x2="305.90" y2="493.80" stroke="#000" stroke-width="0.9"/>
<text x="297.0" y="496.10" font-size="6.4" text-anchor="end" fill="#111">2</text>
<text x="297.3" y="493.30" font-size="4.0" fill="#111">0</text>
<line x1="303.10" y1="480.92" x2="305.90" y2="480.92" stroke="#000" stroke-width="0.9"/>
<text x="297.0" y="483.22" font-size="6.4" text-anchor="end" fill="#111">2</text>
<text x="297.3" y="480.42" font-size="4.0" fill="#111">1</text>
<line x1="303.10" y1="468.04" x2="305.90" y2="468.04" stroke="#000" stroke-width="0.9"/>
<text x="297.0" y="470.34" font-size="6.4" text-anchor="end" fill="#111">2</text>
<text x="297.3" y="467.54" font-size="4.0" fill="#111">2</text>
<line x1="303.10" y1="455.16" x2="305.90" y2="455.16" stroke="#000" stroke-width="0.9"/>
<text x="297.0" y="457.46" font-size="6.4" text-anchor="end" fill="#111">2</text>
<text x="297.3" y="454.66" font-size="4.0" fill="#111">3</text>
<line x1="303.10" y1="442.28" x2="305.90" y2="442.28" stroke="#000" stroke-width="0.9"/>
<text x="297.0" y="444.58" font-size="6.4" text-anchor="end" fill="#111">2</text>
<text x="297.3" y="441.78" font-size="4.0" fill="#111">4</text>
<line x1="303.10" y1="429.40" x2="305.90" y2="429.40" stroke="#000" stroke-width="0.9"/>
<text x="297.0" y="431.70" font-size="6.4" text-anchor="end" fill="#111">2</text>
<text x="297.3" y="428.90" font-size="4.0" fill="#111">5</text>
<line x1="303.10" y1="416.52" x2="305.90" y2="416.52" stroke="#000" stroke-width="0.9"/>
<text x="297.0" y="418.82" font-size="6.4" text-anchor="end" fill="#111">2</text>
<text x="297.3" y="416.02" font-size="4.0" fill="#111">6</text>
<line x1="303.10" y1="403.64" x2="305.90" y2="403.64" stroke="#000" stroke-width="0.9"/>
<text x="297.0" y="405.94" font-size="6.4" text-anchor="end" fill="#111">2</text>
<text x="297.3" y="403.14" font-size="4.0" fill="#111">7</text>
<line x1="303.10" y1="390.76" x2="305.90" y2="390.76" stroke="#000" stroke-width="0.9"/>
<text x="297.0" y="393.06" font-size="6.4" text-anchor="end" fill="#111">2</text>
<text x="297.3" y="390.26" font-size="4.0" fill="#111">8</text>
<text transform="translate(288.6,469.8) rotate(-90)" font-size="8.8" textLength="45" fill="#111" lengthAdjust="spacingAndGlyphs">Fold improvement</text>
<line x1="320.50" y1="506.50" x2="320.50" y2="510.00" stroke="#000" stroke-width="1"/>
<text x="324.30" y="515.30" font-size="6" text-anchor="end" fill="#111" transform="rotate(-60 324.3 515.3)">Venetoclax</text>
<line x1="337.50" y1="506.50" x2="337.50" y2="510.00" stroke="#000" stroke-width="1"/>
<text x="340.97" y="515.30" font-size="6" text-anchor="end" fill="#111" transform="rotate(-60 340.97 515.3)">Vorinostat</text>
<line x1="354.50" y1="506.50" x2="354.50" y2="510.00" stroke="#000" stroke-width="1"/>
<text x="357.64" y="515.30" font-size="6" text-anchor="end" fill="#111" transform="rotate(-60 357.64 515.3)">Bortezomib</text>
<line x1="370.50" y1="506.50" x2="370.50" y2="510.00" stroke="#000" stroke-width="1"/>
<text x="374.31" y="515.30" font-size="6" text-anchor="end" fill="#111" transform="rotate(-60 374.31 515.3)">Mivebresib</text>
<line x1="387.50" y1="506.50" x2="387.50" y2="510.00" stroke="#000" stroke-width="1"/>
<text x="390.98" y="515.30" font-size="6" text-anchor="end" fill="#111" transform="rotate(-60 390.98 515.3)">Vorinostat</text>
<line x1="404.50" y1="506.50" x2="404.50" y2="510.00" stroke="#000" stroke-width="1"/>
<text x="407.65" y="515.30" font-size="6" text-anchor="end" fill="#111" transform="rotate(-60 407.65000000000003 515.3)">Bortezomib</text>
<line x1="420.50" y1="506.50" x2="420.50" y2="510.00" stroke="#000" stroke-width="1"/>
<text x="424.32" y="515.30" font-size="6" text-anchor="end" fill="#111" transform="rotate(-60 424.32000000000005 515.3)">Mivebresib</text>
<line x1="437.50" y1="506.50" x2="437.50" y2="510.00" stroke="#000" stroke-width="1"/>
<text x="440.99" y="515.30" font-size="6" text-anchor="end" fill="#111" transform="rotate(-60 440.99 515.3)">Bortezomib</text>
<line x1="454.50" y1="506.50" x2="454.50" y2="510.00" stroke="#000" stroke-width="1"/>
<text x="457.66" y="515.30" font-size="6" text-anchor="end" fill="#111" transform="rotate(-60 457.66 515.3)">Mivebresib</text>
<line x1="470.50" y1="506.50" x2="470.50" y2="510.00" stroke="#000" stroke-width="1"/>
<text x="474.33" y="515.30" font-size="6" text-anchor="end" fill="#111" transform="rotate(-60 474.33000000000004 515.3)">Bortezomib</text>
<text x="342.40" y="383.00" font-size="6" text-anchor="middle" fill="#111">Ruxolitinib</text>
<text x="403.70" y="383.00" font-size="6" text-anchor="middle" fill="#111">Venetoclax</text>
<text x="444.80" y="383.00" font-size="6" text-anchor="middle" fill="#111">Vorinostat</text>
<text x="479.20" y="383.00" font-size="6" text-anchor="middle" fill="#111">Mivebresib</text>
<text x="316.00" y="555.60" font-size="5.2" text-anchor="middle" fill="#111">45</text>
<text x="332.00" y="555.60" font-size="5.2" text-anchor="middle" fill="#111">11</text>
<text x="348.40" y="555.60" font-size="5.2" text-anchor="middle" fill="#111">30</text>
<text x="364.60" y="555.60" font-size="5.2" text-anchor="middle" fill="#111">4.1</text>
<text x="381.50" y="555.60" font-size="5.2" text-anchor="middle" fill="#111">2.3</text>
<text x="398.00" y="555.60" font-size="5.2" text-anchor="middle" fill="#111">15</text>
<text x="414.50" y="555.60" font-size="5.2" text-anchor="middle" fill="#111">2.9</text>
<text x="431.00" y="555.60" font-size="5.2" text-anchor="middle" fill="#111">17</text>
<text x="447.50" y="555.60" font-size="5.2" text-anchor="middle" fill="#111">4.0</text>
<text x="464.00" y="555.60" font-size="5.2" text-anchor="middle" fill="#111">8.1</text>
<circle cx="403.10" cy="365.80" r="1.35" fill="#000"/>
<text x="407.70" y="367.80" font-size="5.4" text-anchor="start" fill="#111">CD4<tspan font-size="3.6" dy="-2">+</tspan><tspan dy="2"> MF/SS</tspan></text>
<circle cx="449.20" cy="365.80" r="1.35" fill="#c0142a"/>
<text x="453.80" y="367.80" font-size="5.4" text-anchor="start" fill="#111">CD8<tspan font-size="3.6" dy="-2">+</tspan><tspan dy="2"> MF</tspan></text>
<circle cx="486.60" cy="365.80" r="1.35" fill="#e8901a"/>
<text x="490.80" y="367.80" font-size="5.4" text-anchor="start" fill="#111">PTCL</text>
<line x1="493.60" y1="389.00" x2="493.60" y2="507.80" stroke="#5aa03a" stroke-width="1.3"/>
<path d="M490.9,391 L493.6,384.9 L496.3,391 L493.6,389.6 Z" fill="#5aa03a"/>
<text transform="translate(502.4,446.7) rotate(-90)" font-size="6.2" text-anchor="middle" fill="#5aa83a">More Potentiation</text>
<circle cx="77.80" cy="506.60" r="1.3" fill="#000"/>
<circle cx="79.60" cy="506.60" r="1.3" fill="#000"/>
<circle cx="81.40" cy="506.60" r="1.3" fill="#000"/>
<circle cx="85.90" cy="506.60" r="1.3" fill="#000"/>
<circle cx="87.80" cy="506.60" r="1.3" fill="#000"/>
<circle cx="100.10" cy="492.10" r="1.3" fill="#000"/>
<circle cx="97.60" cy="501.40" r="1.3" fill="#000"/>
<circle cx="102.80" cy="501.90" r="1.3" fill="#000"/>
<circle cx="100.10" cy="504.80" r="1.3" fill="#000"/>
<circle cx="116.20" cy="435.20" r="1.3" fill="#000"/>
<circle cx="113.70" cy="483.20" r="1.3" fill="#000"/>
<circle cx="118.80" cy="483.90" r="1.3" fill="#000"/>
<circle cx="116.40" cy="506.60" r="1.3" fill="#000"/>
<circle cx="129.90" cy="501.40" r="1.3" fill="#000"/>
<circle cx="134.90" cy="499.60" r="1.3" fill="#000"/>
<circle cx="134.90" cy="505.20" r="1.3" fill="#000"/>
<circle cx="129.90" cy="506.60" r="1.3" fill="#000"/>
<circle cx="148.20" cy="398.60" r="1.3" fill="#000"/>
<circle cx="148.20" cy="484.60" r="1.3" fill="#000"/>
<circle cx="148.20" cy="489.40" r="1.3" fill="#000"/>
<circle cx="148.20" cy="492.90" r="1.3" fill="#000"/>
<circle cx="147.20" cy="502.70" r="1.3" fill="#000"/>
<circle cx="149.20" cy="502.00" r="1.3" fill="#000"/>
<circle cx="142.50" cy="506.60" r="1.3" fill="#000"/>
<circle cx="145.00" cy="506.60" r="1.3" fill="#000"/>
<circle cx="150.00" cy="506.60" r="1.3" fill="#000"/>
<circle cx="152.50" cy="506.60" r="1.3" fill="#000"/>
<circle cx="164.30" cy="421.60" r="1.3" fill="#000"/>
<circle cx="164.30" cy="472.10" r="1.3" fill="#000"/>
<circle cx="159.30" cy="475.90" r="1.3" fill="#000"/>
<circle cx="159.30" cy="479.00" r="1.3" fill="#000"/>
<circle cx="164.30" cy="478.70" r="1.3" fill="#000"/>
<circle cx="168.90" cy="478.10" r="1.3" fill="#000"/>
<circle cx="164.30" cy="481.70" r="1.3" fill="#000"/>
<circle cx="159.30" cy="490.60" r="1.3" fill="#000"/>
<circle cx="164.30" cy="491.40" r="1.3" fill="#000"/>
<circle cx="168.90" cy="488.80" r="1.3" fill="#000"/>
<circle cx="164.30" cy="502.70" r="1.3" fill="#000"/>
<circle cx="162.00" cy="506.60" r="1.3" fill="#000"/>
<circle cx="166.50" cy="506.60" r="1.3" fill="#000"/>
<circle cx="180.10" cy="475.60" r="1.3" fill="#000"/>
<circle cx="180.10" cy="484.60" r="1.3" fill="#000"/>
<circle cx="174.30" cy="506.60" r="1.3" fill="#000"/>
<circle cx="176.30" cy="506.60" r="1.3" fill="#000"/>
<circle cx="178.30" cy="506.60" r="1.3" fill="#000"/>
<circle cx="180.30" cy="506.60" r="1.3" fill="#000"/>
<circle cx="182.30" cy="506.60" r="1.3" fill="#000"/>
<circle cx="184.30" cy="506.60" r="1.3" fill="#000"/>
<circle cx="186.00" cy="506.60" r="1.3" fill="#000"/>
<circle cx="196.20" cy="447.90" r="1.3" fill="#000"/>
<circle cx="196.20" cy="458.60" r="1.3" fill="#000"/>
<circle cx="196.20" cy="464.60" r="1.3" fill="#000"/>
<circle cx="194.00" cy="482.20" r="1.3" fill="#000"/>
<circle cx="194.00" cy="484.30" r="1.3" fill="#000"/>
<circle cx="194.00" cy="486.50" r="1.3" fill="#000"/>
<circle cx="189.80" cy="487.90" r="1.3" fill="#000"/>
<circle cx="198.30" cy="489.40" r="1.3" fill="#000"/>
<circle cx="202.30" cy="487.90" r="1.3" fill="#000"/>
<circle cx="194.00" cy="502.30" r="1.3" fill="#000"/>
<circle cx="198.30" cy="500.70" r="1.3" fill="#000"/>
<circle cx="198.30" cy="505.20" r="1.3" fill="#000"/>
<circle cx="212.10" cy="489.40" r="1.3" fill="#000"/>
<circle cx="212.10" cy="495.50" r="1.3" fill="#000"/>
<circle cx="213.30" cy="501.00" r="1.3" fill="#000"/>
<circle cx="205.60" cy="505.00" r="1.3" fill="#000"/>
<circle cx="207.50" cy="506.60" r="1.3" fill="#000"/>
<circle cx="209.30" cy="504.20" r="1.3" fill="#000"/>
<circle cx="210.50" cy="506.60" r="1.3" fill="#000"/>
<circle cx="212.50" cy="504.60" r="1.3" fill="#000"/>
<circle cx="214.30" cy="506.60" r="1.3" fill="#000"/>
<circle cx="216.30" cy="505.40" r="1.3" fill="#000"/>
<circle cx="218.00" cy="506.60" r="1.3" fill="#000"/>
<circle cx="228.30" cy="453.10" r="1.3" fill="#000"/>
<circle cx="228.30" cy="462.70" r="1.3" fill="#000"/>
<circle cx="230.60" cy="470.60" r="1.3" fill="#000"/>
<circle cx="225.70" cy="483.90" r="1.3" fill="#000"/>
<circle cx="230.60" cy="483.90" r="1.3" fill="#000"/>
<circle cx="223.30" cy="488.80" r="1.3" fill="#000"/>
<circle cx="228.30" cy="489.40" r="1.3" fill="#000"/>
<circle cx="233.20" cy="488.60" r="1.3" fill="#000"/>
<circle cx="223.30" cy="496.90" r="1.3" fill="#000"/>
<circle cx="228.30" cy="498.10" r="1.3" fill="#000"/>
<circle cx="223.10" cy="506.60" r="1.3" fill="#000"/>
<circle cx="228.30" cy="505.20" r="1.3" fill="#000"/>
<circle cx="232.90" cy="506.60" r="1.3" fill="#000"/>
<circle cx="83.20" cy="506.60" r="1.3" fill="#c0142a"/>
<circle cx="90.20" cy="506.60" r="1.3" fill="#e8901a"/>
<circle cx="100.10" cy="483.10" r="1.3" fill="#c0142a"/>
<circle cx="100.10" cy="497.30" r="1.3" fill="#e8901a"/>
<circle cx="132.30" cy="391.80" r="1.3" fill="#e8901a"/>
<circle cx="132.30" cy="396.30" r="1.3" fill="#c0142a"/>
<circle cx="116.20" cy="407.60" r="1.3" fill="#e8901a"/>
<circle cx="116.20" cy="461.60" r="1.3" fill="#c0142a"/>
<circle cx="148.20" cy="477.30" r="1.3" fill="#e8901a"/>
<circle cx="147.30" cy="506.60" r="1.3" fill="#c0142a"/>
<circle cx="164.30" cy="399.20" r="1.3" fill="#e8901a"/>
<circle cx="164.30" cy="450.00" r="1.3" fill="#c0142a"/>
<circle cx="178.40" cy="504.30" r="1.3" fill="#e8901a"/>
<circle cx="198.30" cy="483.70" r="1.3" fill="#c0142a"/>
<circle cx="194.00" cy="490.90" r="1.3" fill="#e8901a"/>
<circle cx="212.10" cy="398.80" r="1.3" fill="#e8901a"/>
<circle cx="211.30" cy="501.50" r="1.3" fill="#c0142a"/>
<circle cx="228.30" cy="398.60" r="1.3" fill="#e8901a"/>
<circle cx="225.70" cy="472.70" r="1.3" fill="#c0142a"/>
<circle cx="320.90" cy="395.40" r="1.3" fill="#000"/>
<circle cx="316.30" cy="409.80" r="1.3" fill="#000"/>
<circle cx="320.90" cy="411.80" r="1.3" fill="#000"/>
<circle cx="325.90" cy="410.70" r="1.3" fill="#000"/>
<circle cx="320.90" cy="415.30" r="1.3" fill="#000"/>
<circle cx="320.90" cy="450.50" r="1.3" fill="#000"/>
<circle cx="320.90" cy="454.10" r="1.3" fill="#000"/>
<circle cx="316.30" cy="456.20" r="1.3" fill="#000"/>
<circle cx="320.90" cy="458.20" r="1.3" fill="#000"/>
<circle cx="320.90" cy="465.50" r="1.3" fill="#000"/>
<circle cx="316.30" cy="471.70" r="1.3" fill="#000"/>
<circle cx="320.90" cy="473.60" r="1.3" fill="#000"/>
<circle cx="316.30" cy="475.80" r="1.3" fill="#000"/>
<circle cx="337.60" cy="409.80" r="1.3" fill="#000"/>
<circle cx="337.60" cy="431.40" r="1.3" fill="#000"/>
<circle cx="337.60" cy="450.40" r="1.3" fill="#000"/>
<circle cx="332.80" cy="472.90" r="1.3" fill="#000"/>
<circle cx="337.60" cy="470.30" r="1.3" fill="#000"/>
<circle cx="337.60" cy="474.20" r="1.3" fill="#000"/>
<circle cx="342.50" cy="474.20" r="1.3" fill="#000"/>
<circle cx="332.80" cy="476.30" r="1.3" fill="#000"/>
<circle cx="337.60" cy="478.20" r="1.3" fill="#000"/>
<circle cx="332.80" cy="482.60" r="1.3" fill="#000"/>
<circle cx="335.00" cy="489.00" r="1.3" fill="#000"/>
<circle cx="340.00" cy="489.00" r="1.3" fill="#000"/>
<circle cx="337.60" cy="492.90" r="1.3" fill="#000"/>
<circle cx="354.00" cy="394.70" r="1.3" fill="#000"/>
<circle cx="354.00" cy="398.00" r="1.3" fill="#000"/>
<circle cx="354.00" cy="445.00" r="1.3" fill="#000"/>
<circle cx="354.00" cy="450.10" r="1.3" fill="#000"/>
<circle cx="354.00" cy="457.70" r="1.3" fill="#000"/>
<circle cx="349.30" cy="460.20" r="1.3" fill="#000"/>
<circle cx="359.10" cy="459.90" r="1.3" fill="#000"/>
<circle cx="354.00" cy="461.90" r="1.3" fill="#000"/>
<circle cx="354.00" cy="466.70" r="1.3" fill="#000"/>
<circle cx="351.90" cy="471.20" r="1.3" fill="#000"/>
<circle cx="351.90" cy="480.40" r="1.3" fill="#000"/>
<circle cx="356.50" cy="480.40" r="1.3" fill="#000"/>
<circle cx="354.00" cy="490.80" r="1.3" fill="#000"/>
<circle cx="370.60" cy="423.90" r="1.3" fill="#000"/>
<circle cx="370.60" cy="480.10" r="1.3" fill="#000"/>
<circle cx="364.10" cy="486.20" r="1.3" fill="#000"/>
<circle cx="368.50" cy="485.00" r="1.3" fill="#000"/>
<circle cx="368.50" cy="487.60" r="1.3" fill="#000"/>
<circle cx="372.80" cy="486.90" r="1.3" fill="#000"/>
<circle cx="377.10" cy="486.90" r="1.3" fill="#000"/>
<circle cx="364.10" cy="490.20" r="1.3" fill="#000"/>
<circle cx="368.50" cy="491.20" r="1.3" fill="#000"/>
<circle cx="372.80" cy="490.50" r="1.3" fill="#000"/>
<circle cx="377.10" cy="489.80" r="1.3" fill="#000"/>
<circle cx="364.10" cy="493.10" r="1.3" fill="#000"/>
<circle cx="368.50" cy="493.40" r="1.3" fill="#000"/>
<circle cx="372.80" cy="494.50" r="1.3" fill="#000"/>
<circle cx="377.10" cy="493.10" r="1.3" fill="#000"/>
<circle cx="380.90" cy="489.80" r="1.3" fill="#000"/>
<circle cx="385.00" cy="470.90" r="1.3" fill="#000"/>
<circle cx="389.10" cy="461.50" r="1.3" fill="#000"/>
<circle cx="389.10" cy="471.90" r="1.3" fill="#000"/>
<circle cx="387.00" cy="474.50" r="1.3" fill="#000"/>
<circle cx="385.00" cy="483.70" r="1.3" fill="#000"/>
<circle cx="389.10" cy="483.30" r="1.3" fill="#000"/>
<circle cx="393.30" cy="483.30" r="1.3" fill="#000"/>
<circle cx="385.00" cy="487.70" r="1.3" fill="#000"/>
<circle cx="389.10" cy="489.80" r="1.3" fill="#000"/>
<circle cx="393.30" cy="489.60" r="1.3" fill="#000"/>
<circle cx="385.00" cy="493.30" r="1.3" fill="#000"/>
<circle cx="389.10" cy="493.10" r="1.3" fill="#000"/>
<circle cx="397.40" cy="493.30" r="1.3" fill="#000"/>
<circle cx="403.60" cy="396.50" r="1.3" fill="#000"/>
<circle cx="403.60" cy="441.90" r="1.3" fill="#000"/>
<circle cx="403.60" cy="452.30" r="1.3" fill="#000"/>
<circle cx="403.60" cy="473.50" r="1.3" fill="#000"/>
<circle cx="403.60" cy="477.80" r="1.3" fill="#000"/>
<circle cx="403.60" cy="481.80" r="1.3" fill="#000"/>
<circle cx="406.80" cy="487.40" r="1.3" fill="#000"/>
<circle cx="400.70" cy="491.60" r="1.3" fill="#000"/>
<circle cx="403.60" cy="493.30" r="1.3" fill="#000"/>
<circle cx="406.80" cy="491.90" r="1.3" fill="#000"/>
<circle cx="410.00" cy="491.00" r="1.3" fill="#000"/>
<circle cx="410.00" cy="493.60" r="1.3" fill="#000"/>
<circle cx="420.00" cy="449.60" r="1.3" fill="#000"/>
<circle cx="413.90" cy="472.80" r="1.3" fill="#000"/>
<circle cx="418.00" cy="474.70" r="1.3" fill="#000"/>
<circle cx="422.20" cy="472.80" r="1.3" fill="#000"/>
<circle cx="420.10" cy="478.60" r="1.3" fill="#000"/>
<circle cx="413.90" cy="482.10" r="1.3" fill="#000"/>
<circle cx="418.00" cy="484.50" r="1.3" fill="#000"/>
<circle cx="422.20" cy="483.50" r="1.3" fill="#000"/>
<circle cx="418.00" cy="489.80" r="1.3" fill="#000"/>
<circle cx="422.20" cy="489.80" r="1.3" fill="#000"/>
<circle cx="418.00" cy="493.30" r="1.3" fill="#000"/>
<circle cx="422.20" cy="492.70" r="1.3" fill="#000"/>
<circle cx="426.50" cy="471.00" r="1.3" fill="#000"/>
<circle cx="436.60" cy="398.10" r="1.3" fill="#000"/>
<circle cx="436.60" cy="423.10" r="1.3" fill="#000"/>
<circle cx="436.60" cy="442.50" r="1.3" fill="#000"/>
<circle cx="435.10" cy="471.90" r="1.3" fill="#000"/>
<circle cx="436.80" cy="474.80" r="1.3" fill="#000"/>
<circle cx="436.80" cy="481.80" r="1.3" fill="#000"/>
<circle cx="436.80" cy="487.80" r="1.3" fill="#000"/>
<circle cx="433.50" cy="491.70" r="1.3" fill="#000"/>
<circle cx="436.80" cy="491.10" r="1.3" fill="#000"/>
<circle cx="440.00" cy="492.00" r="1.3" fill="#000"/>
<circle cx="430.40" cy="493.50" r="1.3" fill="#000"/>
<circle cx="436.80" cy="493.50" r="1.3" fill="#000"/>
<circle cx="443.40" cy="493.90" r="1.3" fill="#000"/>
<circle cx="453.10" cy="432.90" r="1.3" fill="#000"/>
<circle cx="453.10" cy="448.90" r="1.3" fill="#000"/>
<circle cx="451.90" cy="471.90" r="1.3" fill="#000"/>
<circle cx="446.50" cy="485.90" r="1.3" fill="#000"/>
<circle cx="449.10" cy="485.20" r="1.3" fill="#000"/>
<circle cx="451.60" cy="486.60" r="1.3" fill="#000"/>
<circle cx="454.40" cy="487.50" r="1.3" fill="#000"/>
<circle cx="456.90" cy="484.10" r="1.3" fill="#000"/>
<circle cx="456.90" cy="488.20" r="1.3" fill="#000"/>
<circle cx="459.80" cy="486.20" r="1.3" fill="#000"/>
<circle cx="449.10" cy="487.90" r="1.3" fill="#000"/>
<circle cx="451.90" cy="489.20" r="1.3" fill="#000"/>
<circle cx="453.10" cy="493.50" r="1.3" fill="#000"/>
<circle cx="469.80" cy="410.40" r="1.3" fill="#000"/>
<circle cx="469.60" cy="450.80" r="1.3" fill="#000"/>
<circle cx="472.90" cy="472.60" r="1.3" fill="#000"/>
<circle cx="468.10" cy="476.50" r="1.3" fill="#000"/>
<circle cx="471.20" cy="476.40" r="1.3" fill="#000"/>
<circle cx="469.60" cy="481.80" r="1.3" fill="#000"/>
<circle cx="469.60" cy="490.40" r="1.3" fill="#000"/>
<circle cx="466.20" cy="492.00" r="1.3" fill="#000"/>
<circle cx="472.90" cy="492.00" r="1.3" fill="#000"/>
<circle cx="476.10" cy="490.90" r="1.3" fill="#000"/>
<circle cx="463.00" cy="493.50" r="1.3" fill="#000"/>
<circle cx="469.60" cy="493.50" r="1.3" fill="#000"/>
<circle cx="476.10" cy="494.20" r="1.3" fill="#000"/>
<circle cx="320.90" cy="440.80" r="1.3" fill="#c0142a"/>
<circle cx="325.90" cy="474.00" r="1.3" fill="#e8901a"/>
<circle cx="342.50" cy="471.40" r="1.3" fill="#e8901a"/>
<circle cx="337.60" cy="484.40" r="1.3" fill="#c0142a"/>
<circle cx="356.50" cy="470.60" r="1.3" fill="#c0142a"/>
<circle cx="354.00" cy="486.90" r="1.3" fill="#e8901a"/>
<circle cx="372.80" cy="491.90" r="1.3" fill="#c0142a"/>
<circle cx="368.50" cy="496.00" r="1.3" fill="#e8901a"/>
<circle cx="380.90" cy="482.70" r="1.3" fill="#e8901a"/>
<circle cx="385.00" cy="462.70" r="1.3" fill="#c0142a"/>
<circle cx="403.60" cy="485.10" r="1.3" fill="#c0142a"/>
<circle cx="403.60" cy="488.90" r="1.3" fill="#e8901a"/>
<circle cx="420.10" cy="462.70" r="1.3" fill="#c0142a"/>
<circle cx="426.50" cy="473.60" r="1.3" fill="#e8901a"/>
<circle cx="438.30" cy="470.40" r="1.3" fill="#c0142a"/>
<circle cx="433.50" cy="485.20" r="1.3" fill="#e8901a"/>
<circle cx="454.80" cy="471.30" r="1.3" fill="#e8901a"/>
<circle cx="454.40" cy="489.70" r="1.3" fill="#c0142a"/>
<circle cx="469.60" cy="473.20" r="1.3" fill="#c0142a"/>
<circle cx="472.90" cy="488.80" r="1.3" fill="#e8901a"/>
</svg></body></html>
